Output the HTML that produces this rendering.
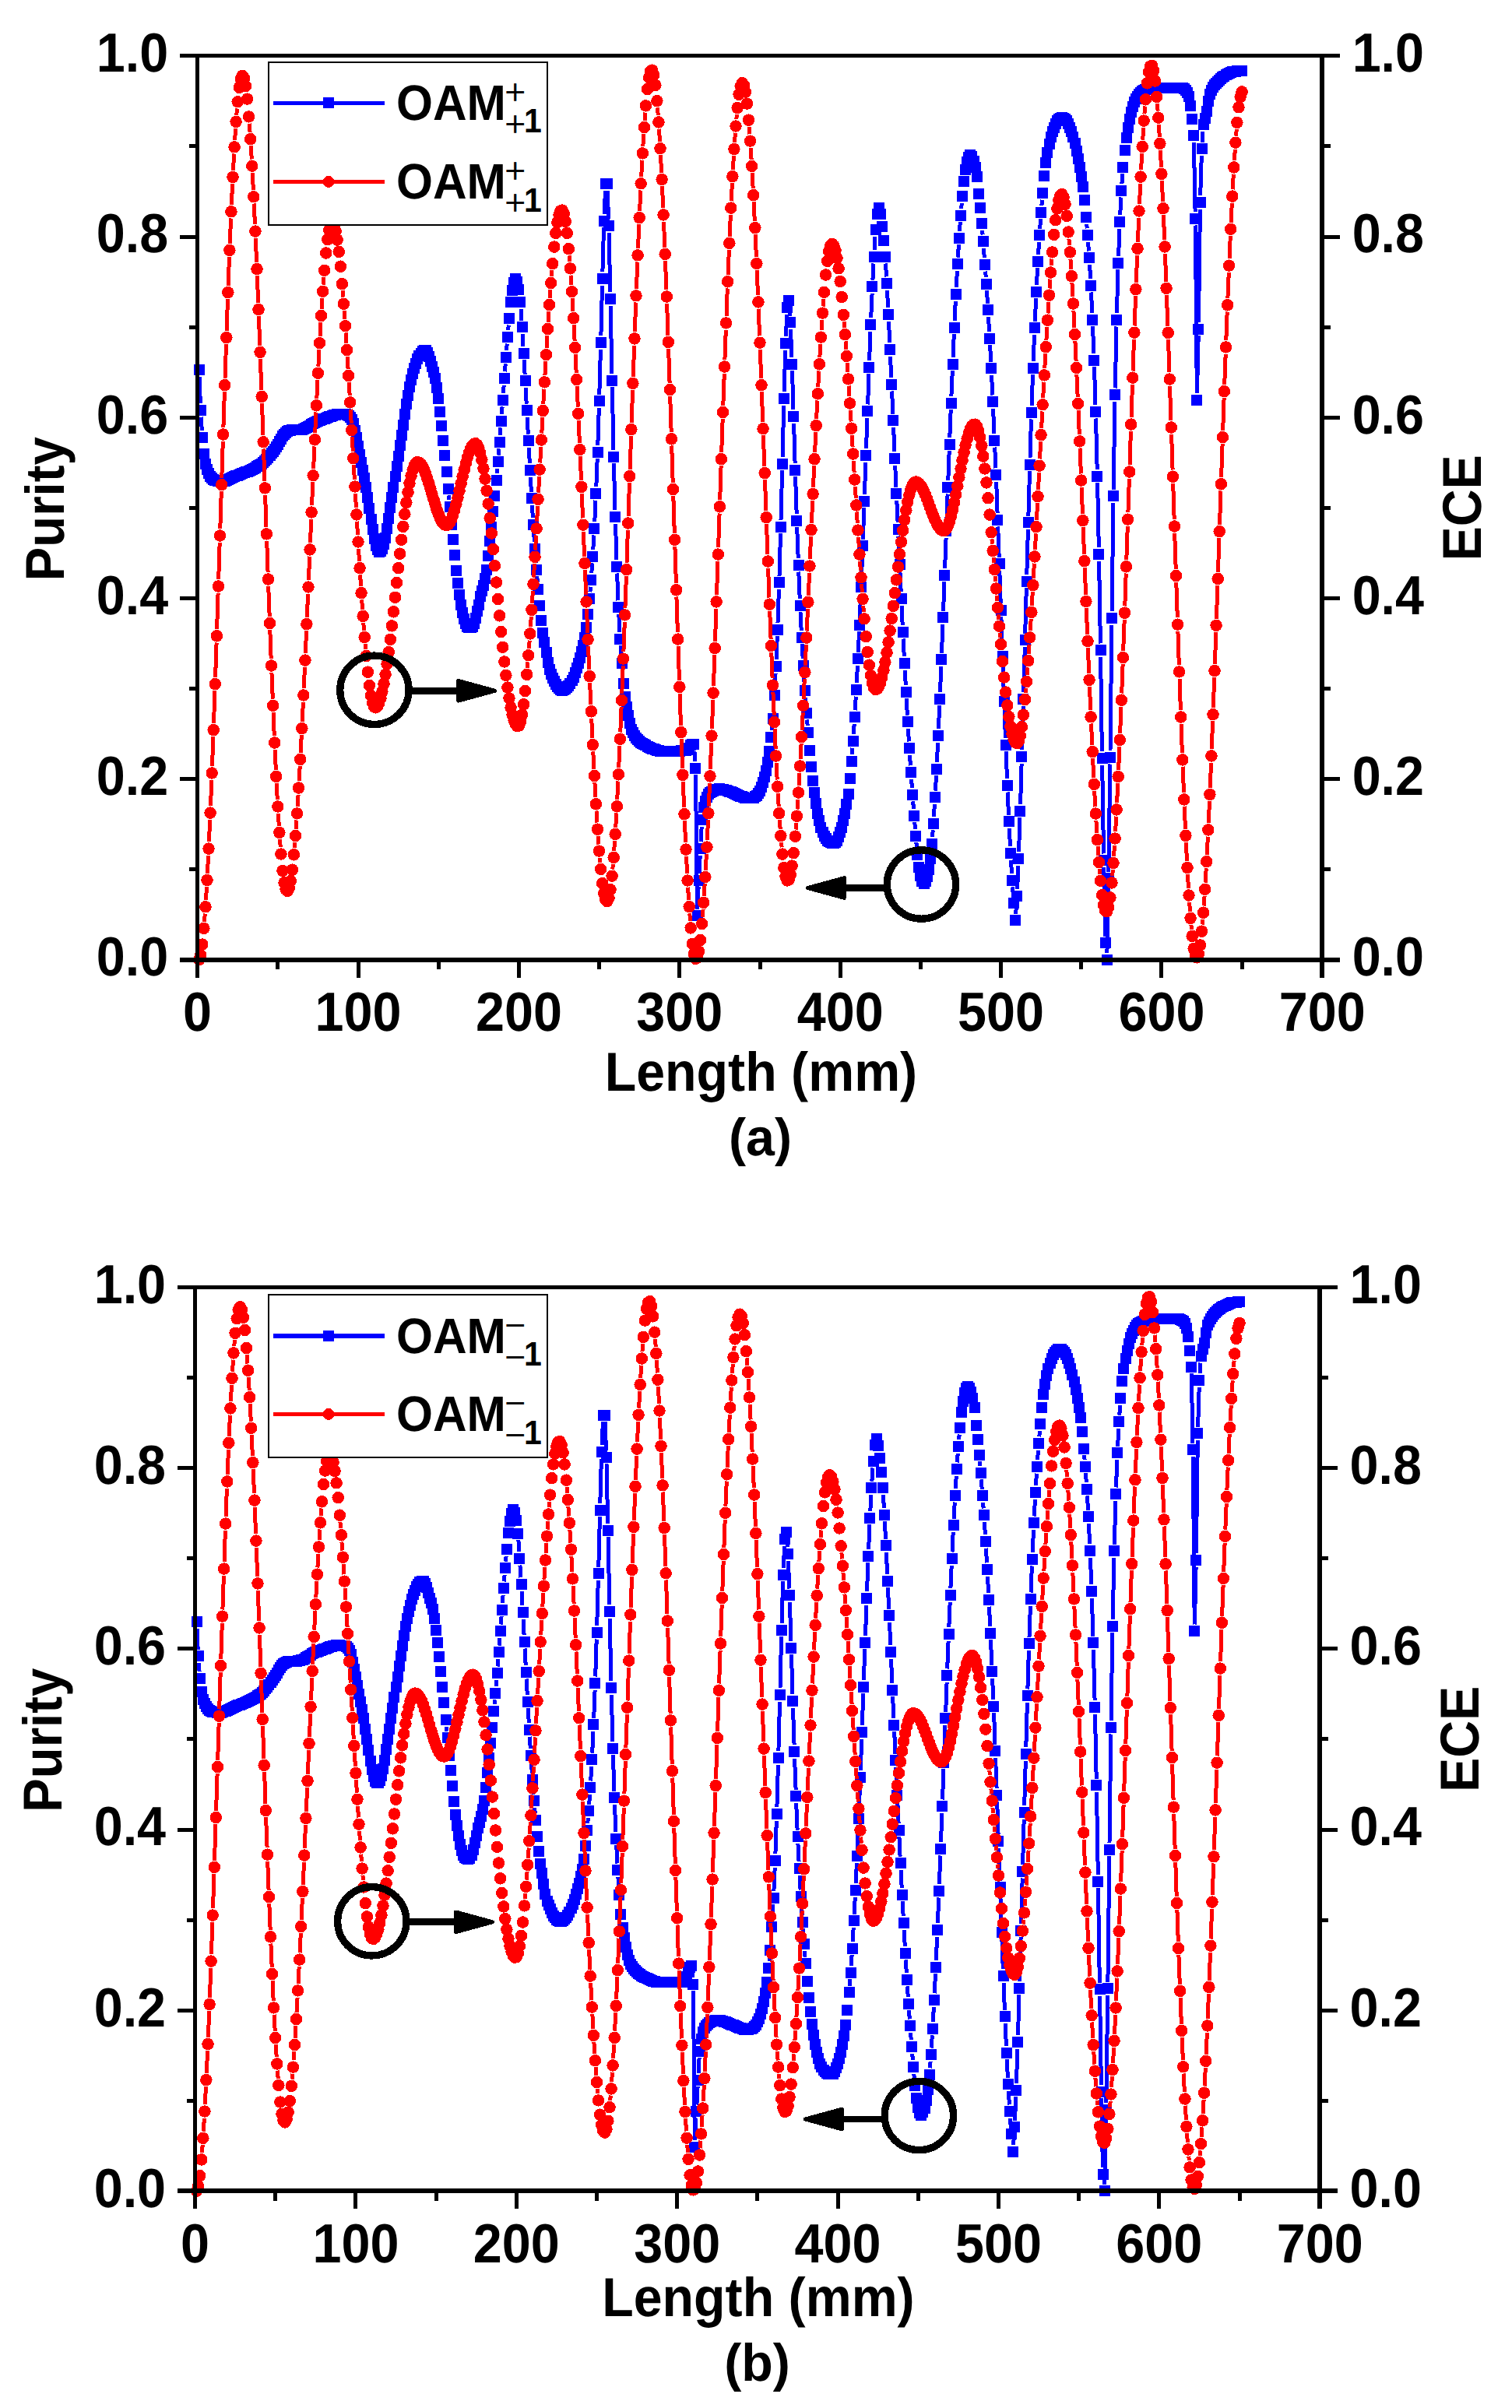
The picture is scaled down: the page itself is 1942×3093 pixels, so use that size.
<!DOCTYPE html>
<html><head><meta charset="utf-8"><title>Purity and ECE vs Length</title>
<style>html,body{margin:0;padding:0;background:#fff}svg{display:block}</style></head>
<body>
<svg width="1942" height="3093" viewBox="0 0 1942 3093" shape-rendering="crispEdges" text-rendering="geometricPrecision">
<rect width="1942" height="3093" fill="#fff"/>
<path d="M256 484L257.4 518.3M258.2 535.6L259.3 553.1M576.3 636.4L576.9 642.1M578.4 659.4L578.9 665M638.3 607.8L638.8 601.9M640.2 584.6L640.9 576.4M642.3 559L643 549.4M644.3 532.1L645.1 522.4M646.4 505L647.2 494.8M648.5 477.4L649.2 467.4M650.6 450L651.2 441.5M652.7 424.1L653.2 417.5M669 396.8L670 411.7M671 429L672 444.9M673.1 462.3L674.1 480.8M675.1 498.1L676.2 518.6M677.2 536L678.3 557.6M679.2 575L680.4 595.4M681.3 612.7L682.4 631.7M683.4 649.1L684.4 664.8M685.5 682.2L686.4 696.2M687.7 713.5L688.4 723.1M689.8 740.4L690.4 747.9M757.9 760.4L758.5 753.6M759.8 736.2L760.7 723.4M761.8 706L762.9 687.5M763.8 670.1L765 642.6M765.8 625.2L767.2 589.4M767.8 572L769.3 524M769.8 506.6L771.4 448.6M771.9 431.2L773.5 366.8M773.9 349.4L775.5 292.2M776.1 274.8L777.5 244.9M780.2 244.9L781.6 281.4M782.1 298.8L783.8 375.4M784.2 392.8L785.9 479.9M786.3 497.3L788 577.8M788.4 595.2L790 655.3M790.5 672.7L792 719.1M792.6 736.5L794 771.4M794.8 788.8L796 812M797 829.4L797.9 843.4M799.2 860.7L799.8 868.9M891.9 964.9L892.8 977.8M893.5 995.2L895.4 1167.7M895.9 1167.7L897.1 1139.4M898 1122L899.2 1098.8M900.1 1081.4L901.2 1061.8M991.2 937.8L991.7 931.9M993.1 914.6L993.9 902.1M995 884.7L996.1 864.7M997 847.3L998.3 817.3M999 799.9L1000.4 757.1M1001 739.7L1002.5 685.3M1003 667.9L1004.6 604.3M1005.1 586.9L1006.7 520.8M1007.2 503.4L1008.7 449.7M1009.4 432.3L1010.7 404.1M1013.7 394.9L1014.5 405.8M1015.5 423.1L1016.9 459M1017.5 476.4L1019 526.4M1019.6 543.8L1021.1 594.9M1021.6 612.3L1023.2 659.9M1023.7 677.3L1025.2 717.2M1025.8 734.5L1027.2 769.1M1028 786.4L1029.2 809.9M1030.1 827.3L1031.2 846M1032.2 863.4L1033.2 878.4M1034.4 895.8L1035.2 907.1M1036.5 924.5L1037.2 932.2M1094.3 969.3L1095 960.7M1096.3 943.3L1097.2 929.7M1098.2 912.4L1099.3 894.6M1100.3 877.2L1101.4 855.1M1102.3 837.7L1103.5 811.3M1104.3 794L1105.6 762.8M1106.3 745.4L1107.7 710.1M1108.4 692.7L1109.8 652.3M1110.4 634.9L1111.9 593.8M1112.5 576.4L1113.9 536.9M1114.6 519.5L1116 480.2M1116.6 462.8L1118 425.8M1118.7 408.4L1120.1 376.9M1120.9 359.6L1122 338.5M1123 321.1L1124 304M1137.5 338.5L1138.5 355.5M1139.5 372.9L1140.6 395.2M1141.5 412.6L1142.7 440.4M1143.5 457.8L1144.8 485.1M1145.6 502.5L1146.9 531.7M1147.6 549.1L1149 580.3M1149.7 597.7L1151 625.6M1151.8 642.9L1153.1 671.1M1153.9 688.5L1155.1 716.2M1155.9 733.6L1157.2 760.4M1158 777.7L1159.2 803.1M1160.1 820.5L1161.3 843.3M1162.2 860.7L1163.3 879.8M1164.2 897.2L1165.4 918.6M1166.4 935.9L1167.4 952.5M1168.5 969.9L1169.4 983.4M1170.6 1000.7L1171.4 1012M1172.7 1029.4L1173.4 1038.8M1174.8 1056.2L1175.5 1064.8M1176.9 1082.2L1177.5 1089.1M1197.5 1074.9L1198.2 1066.4M1199.4 1049L1200.4 1032.9M1201.4 1015.6L1202.5 996.2M1203.4 978.9L1204.6 953.8M1205.4 936.4L1206.7 906.3M1207.5 888.9L1208.8 856M1209.5 838.6L1210.9 802M1211.6 784.6L1213 747.4M1213.6 730L1215.1 690.7M1215.7 673.3L1217.1 634.5M1217.8 617.1L1219.2 579.4M1219.8 562L1221.2 526.2M1221.9 508.9L1223.3 476.2M1224 458.8L1225.3 429.4M1226.1 412L1227.3 386.6M1228.2 369.2L1229.4 348M1230.4 330.6L1231.4 314.3M1232.5 297L1233.3 285.2M1234.7 267.8L1235.3 261M1261.6 295.7L1262.1 301.5M1263.5 318.9L1264.3 331.2M1265.6 348.5L1266.3 356M1267.5 373.3L1268.5 389.7M1269.5 407.1L1270.6 425.9M1271.6 443.2L1272.7 464.7M1273.6 482.1L1274.8 507.5M1275.6 524.9L1276.9 557.1M1277.7 574.5L1279 601.4M1279.7 618.8L1281.1 659.2M1281.7 676.5L1283.2 715.6M1283.8 733L1285.2 774.9M1285.9 792.2L1287.3 834.1M1287.9 851.5L1289.4 892.1M1290 909.5L1291.4 947.9M1292.1 965.3L1293.5 1000.1M1294.2 1017.5L1295.5 1046.6M1296.3 1063.9L1297.5 1087.2M1298.4 1104.6L1299.5 1122M1300.6 1139.4L1301.4 1151.1M1304.7 1173.7L1305.6 1159.6M1306.6 1142.2L1307.9 1111.8M1308.5 1094.4L1310 1050.2M1310.6 1032.9L1312.1 980.8M1312.6 963.4L1314.2 906.7M1314.7 889.3L1316.3 831M1316.7 813.6L1318.3 755.2M1318.8 737.8L1320.4 680.1M1320.9 662.7L1322.5 605.4M1323 588L1324.5 538.5M1325.1 521.2L1326.5 481.4M1327.2 464L1328.5 430M1329.3 412.6L1330.6 383.4M1331.4 366L1332.6 344.2M1333.6 326.8L1334.5 311.1M1335.7 293.7L1336.5 281.2M1337.9 263.9L1338.5 256.6M1395.7 287.7L1396.2 293.4M1397.6 310.7L1398.4 322.5M1399.6 339.9L1400.6 358.2M1401.5 375.5L1402.8 401.8M1403.5 419.2L1404.9 453.9M1405.5 471.3L1407 520.1M1407.5 537.5L1409.2 602.9M1409.6 620.3L1411.3 703.2M1411.6 720.6L1413.4 826.5M1413.6 843.9L1415.4 965.2M1415.7 982.6L1417.5 1096.5M1417.8 1113.9L1419.5 1202.7M1421.9 1224.2L1423.7 1137.1M1423.9 1119.7L1425.8 981.5M1426 964.1L1427.9 802.7M1428.1 785.3L1429.9 646M1430.2 628.6L1431.9 515.9M1432.3 498.5L1434 419.5M1434.4 402.1L1436 346.4M1436.6 329L1437.9 293.6M1438.7 276.2L1439.9 253.5M1440.9 236.1L1441.8 223.3M1533.4 182.7L1535.1 272.1M1535.4 289.5L1537.3 505M1537.5 505L1539.2 431.1M1539.5 413.8L1541.4 268.6M1541.7 251.2L1543.3 200.1M1544.1 182.7L1545 169.1" stroke="#0000ff" stroke-width="5" fill="none"/>
<path d="M248.7 468.3h14v14h-14zM250.7 520h14v14h-14zM252.8 554.8h14v14h-14zM254.9 575.7h14v14h-14zM256.9 588.5h14v14h-14zM259 596.1h14v14h-14zM261 601.2h14v14h-14zM263.1 604.6h14v14h-14zM265.2 607.2h14v14h-14zM267.2 608.8h14v14h-14zM269.3 609.6h14v14h-14zM271.4 610.3h14v14h-14zM273.4 610.9h14v14h-14zM275.5 611.2h14v14h-14zM277.6 611.2h14v14h-14zM279.6 611h14v14h-14zM281.7 610.5h14v14h-14zM283.8 609.9h14v14h-14zM285.8 609.2h14v14h-14zM287.9 608.3h14v14h-14zM289.9 607.4h14v14h-14zM292 606.4h14v14h-14zM294.1 605.4h14v14h-14zM296.1 604.4h14v14h-14zM298.2 603.6h14v14h-14zM300.3 602.7h14v14h-14zM302.3 601.9h14v14h-14zM304.4 601h14v14h-14zM306.5 600.2h14v14h-14zM308.5 599.4h14v14h-14zM310.6 598.5h14v14h-14zM312.6 597.6h14v14h-14zM314.7 596.7h14v14h-14zM316.8 595.7h14v14h-14zM318.8 594.6h14v14h-14zM320.9 593.6h14v14h-14zM323 592.4h14v14h-14zM325 591.2h14v14h-14zM327.1 589.9h14v14h-14zM329.2 588.5h14v14h-14zM331.2 587h14v14h-14zM333.3 585.2h14v14h-14zM335.3 583.1h14v14h-14zM337.4 580.7h14v14h-14zM339.5 578.1h14v14h-14zM341.5 575.4h14v14h-14zM343.6 572.6h14v14h-14zM345.7 569.9h14v14h-14zM347.7 566.9h14v14h-14zM349.8 563.6h14v14h-14zM351.9 560h14v14h-14zM353.9 556.6h14v14h-14zM356 553.4h14v14h-14zM358.1 550.7h14v14h-14zM360.1 548.8h14v14h-14zM362.2 547.3h14v14h-14zM364.2 546.1h14v14h-14zM366.3 545.5h14v14h-14zM368.4 545.3h14v14h-14zM370.4 545.2h14v14h-14zM372.5 545.2h14v14h-14zM374.6 545.1h14v14h-14zM376.6 545h14v14h-14zM378.7 544.9h14v14h-14zM380.8 544.5h14v14h-14zM382.8 543.9h14v14h-14zM384.9 543.1h14v14h-14zM386.9 542.1h14v14h-14zM389 540.9h14v14h-14zM391.1 539.7h14v14h-14zM393.1 538.4h14v14h-14zM395.2 537.1h14v14h-14zM397.3 535.9h14v14h-14zM399.3 534.8h14v14h-14zM401.4 533.9h14v14h-14zM403.5 533h14v14h-14zM405.5 532.2h14v14h-14zM407.6 531.4h14v14h-14zM409.6 530.6h14v14h-14zM411.7 529.8h14v14h-14zM413.8 529.1h14v14h-14zM415.8 528.3h14v14h-14zM417.9 527.6h14v14h-14zM420 526.9h14v14h-14zM422 526.2h14v14h-14zM424.1 525.6h14v14h-14zM426.2 525h14v14h-14zM428.2 524.6h14v14h-14zM430.3 524.7h14v14h-14zM432.4 524.8h14v14h-14zM434.4 525.1h14v14h-14zM436.5 525.4h14v14h-14zM438.5 525.8h14v14h-14zM440.6 526.7h14v14h-14zM442.7 528.7h14v14h-14zM444.7 531.5h14v14h-14zM446.8 536.8h14v14h-14zM448.9 546h14v14h-14zM450.9 555.4h14v14h-14zM453 565.9h14v14h-14zM455.1 576.8h14v14h-14zM457.1 587.3h14v14h-14zM459.2 597.2h14v14h-14zM461.2 607.3h14v14h-14zM463.3 618.6h14v14h-14zM465.4 632h14v14h-14zM467.4 645.9h14v14h-14zM469.5 659.9h14v14h-14zM471.6 673.2h14v14h-14zM473.6 684.8h14v14h-14zM475.7 693.8h14v14h-14zM477.8 699.1h14v14h-14zM479.8 701.5h14v14h-14zM481.9 701.1h14v14h-14zM483.9 698.2h14v14h-14zM486 692.4h14v14h-14zM488.1 683.7h14v14h-14zM490.1 672.1h14v14h-14zM492.2 658.7h14v14h-14zM494.3 645.3h14v14h-14zM496.3 632h14v14h-14zM498.4 618.6h14v14h-14zM500.5 605.3h14v14h-14zM502.5 591.9h14v14h-14zM504.6 578.6h14v14h-14zM506.7 565.2h14v14h-14zM508.7 551.9h14v14h-14zM510.8 538.5h14v14h-14zM512.8 525.2h14v14h-14zM514.9 512.4h14v14h-14zM517 500.8h14v14h-14zM519 490.3h14v14h-14zM521.1 481.3h14v14h-14zM523.2 473h14v14h-14zM525.2 465.8h14v14h-14zM527.3 459.6h14v14h-14zM529.4 454.3h14v14h-14zM531.4 449.9h14v14h-14zM533.5 446.5h14v14h-14zM535.5 443.9h14v14h-14zM537.6 442.5h14v14h-14zM539.7 442.6h14v14h-14zM541.7 445.6h14v14h-14zM543.8 450.7h14v14h-14zM545.9 457h14v14h-14zM547.9 464.1h14v14h-14zM550 470.8h14v14h-14zM552.1 478.7h14v14h-14zM554.1 490.9h14v14h-14zM556.2 505h14v14h-14zM558.2 521.9h14v14h-14zM560.3 539.9h14v14h-14zM562.4 558.6h14v14h-14zM564.4 578.2h14v14h-14zM566.5 598.7h14v14h-14zM568.6 620.7h14v14h-14zM570.6 643.7h14v14h-14zM572.7 666.7h14v14h-14zM574.8 685.5h14v14h-14zM576.8 705.6h14v14h-14zM578.9 725.5h14v14h-14zM581 742.3h14v14h-14zM583 756.8h14v14h-14zM585.1 769.6h14v14h-14zM587.1 780h14v14h-14zM589.2 788.2h14v14h-14zM591.3 794h14v14h-14zM593.3 797.5h14v14h-14zM595.4 798.8h14v14h-14zM597.5 799.4h14v14h-14zM599.5 798h14v14h-14zM601.6 794h14v14h-14zM603.7 787h14v14h-14zM605.7 778.3h14v14h-14zM607.8 769.6h14v14h-14zM609.8 759.1h14v14h-14zM611.9 752.2h14v14h-14zM614 744.6h14v14h-14zM616 735.9h14v14h-14zM618.1 724.8h14v14h-14zM620.2 707.1h14v14h-14zM622.2 688.4h14v14h-14zM624.3 669.7h14v14h-14zM626.4 650h14v14h-14zM628.4 630.3h14v14h-14zM630.5 609.5h14v14h-14zM632.5 586.3h14v14h-14zM634.6 560.7h14v14h-14zM636.7 533.8h14v14h-14zM638.7 506.7h14v14h-14zM640.8 479.1h14v14h-14zM642.9 451.7h14v14h-14zM644.9 425.8h14v14h-14zM647 401.9h14v14h-14zM649.1 380.7h14v14h-14zM651.1 365.5h14v14h-14zM653.2 355.7h14v14h-14zM655.3 350.9h14v14h-14zM657.3 354.5h14v14h-14zM659.4 364.9h14v14h-14zM661.4 381.1h14v14h-14zM663.5 413.4h14v14h-14zM665.6 446.6h14v14h-14zM667.6 482.4h14v14h-14zM669.7 520.3h14v14h-14zM671.8 559.3h14v14h-14zM673.8 597h14v14h-14zM675.9 633.4h14v14h-14zM678 666.5h14v14h-14zM680 697.8h14v14h-14zM682.1 724.8h14v14h-14zM684.1 749.6h14v14h-14zM686.2 770.6h14v14h-14zM688.3 789.6h14v14h-14zM690.3 805.7h14v14h-14zM692.4 817.8h14v14h-14zM694.5 831.1h14v14h-14zM696.5 844.4h14v14h-14zM698.6 853.4h14v14h-14zM700.7 858.9h14v14h-14zM702.7 863.5h14v14h-14zM704.8 868.3h14v14h-14zM706.8 872.3h14v14h-14zM708.9 874.9h14v14h-14zM711 877h14v14h-14zM713 878.6h14v14h-14zM715.1 879.7h14v14h-14zM717.2 879.3h14v14h-14zM719.2 878.2h14v14h-14zM721.3 876.4h14v14h-14zM723.4 874.1h14v14h-14zM725.4 871h14v14h-14zM727.5 867.1h14v14h-14zM729.6 862.6h14v14h-14zM731.6 857.3h14v14h-14zM733.7 851.2h14v14h-14zM735.7 844.5h14v14h-14zM737.8 837.5h14v14h-14zM739.9 830h14v14h-14zM741.9 821.8h14v14h-14zM744 812h14v14h-14zM746.1 799.3h14v14h-14zM748.1 782h14v14h-14zM750.2 762h14v14h-14zM752.3 737.9h14v14h-14zM754.3 707.7h14v14h-14zM756.4 671.8h14v14h-14zM758.4 626.9h14v14h-14zM760.5 573.7h14v14h-14zM762.6 508.3h14v14h-14zM764.6 432.9h14v14h-14zM766.7 351.1h14v14h-14zM768.8 276.5h14v14h-14zM770.8 229.2h14v14h-14zM772.9 229.2h14v14h-14zM775 283.1h14v14h-14zM777 377.1h14v14h-14zM779.1 481.6h14v14h-14zM781.2 579.5h14v14h-14zM783.2 657h14v14h-14zM785.3 720.8h14v14h-14zM787.3 773.1h14v14h-14zM789.4 813.7h14v14h-14zM791.5 845.1h14v14h-14zM793.5 870.6h14v14h-14zM795.6 887.9h14v14h-14zM797.7 900.9h14v14h-14zM799.7 912.3h14v14h-14zM801.8 922.2h14v14h-14zM803.9 929.6h14v14h-14zM805.9 934.1h14v14h-14zM808 937.6h14v14h-14zM810 940.5h14v14h-14zM812.1 942.9h14v14h-14zM814.2 944.9h14v14h-14zM816.2 946.6h14v14h-14zM818.3 947.9h14v14h-14zM820.4 949.2h14v14h-14zM822.4 950.4h14v14h-14zM824.5 951.5h14v14h-14zM826.6 952.6h14v14h-14zM828.6 953.7h14v14h-14zM830.7 954.6h14v14h-14zM832.7 955.4h14v14h-14zM834.8 956.2h14v14h-14zM836.9 956.8h14v14h-14zM838.9 957.3h14v14h-14zM841 957.7h14v14h-14zM843.1 957.9h14v14h-14zM845.1 957.9h14v14h-14zM847.2 957.9h14v14h-14zM849.3 957.9h14v14h-14zM851.3 957.9h14v14h-14zM853.4 957.8h14v14h-14zM855.5 957.8h14v14h-14zM857.5 957.7h14v14h-14zM859.6 957.6h14v14h-14zM861.6 957.6h14v14h-14zM863.7 957.5h14v14h-14zM865.8 957.5h14v14h-14zM867.8 957.4h14v14h-14zM869.9 957.3h14v14h-14zM872 957.3h14v14h-14zM874 957.1h14v14h-14zM876.1 956.2h14v14h-14zM878.2 954.2h14v14h-14zM880.2 949.6h14v14h-14zM882.3 949.2h14v14h-14zM884.3 949.2h14v14h-14zM886.4 979.5h14v14h-14zM888.5 1169.4h14v14h-14zM890.5 1123.7h14v14h-14zM892.6 1083.1h14v14h-14zM894.7 1046.2h14v14h-14zM896.7 1030h14v14h-14zM898.8 1021.5h14v14h-14zM900.9 1016.9h14v14h-14zM902.9 1013.4h14v14h-14zM905 1011.3h14v14h-14zM907 1009.9h14v14h-14zM909.1 1008.9h14v14h-14zM911.2 1007.9h14v14h-14zM913.2 1007.1h14v14h-14zM915.3 1006.5h14v14h-14zM917.4 1006.3h14v14h-14zM919.4 1006.5h14v14h-14zM921.5 1006.9h14v14h-14zM923.6 1007.5h14v14h-14zM925.6 1008.1h14v14h-14zM927.7 1008.8h14v14h-14zM929.8 1009.5h14v14h-14zM931.8 1010.3h14v14h-14zM933.9 1011.1h14v14h-14zM935.9 1012h14v14h-14zM938 1012.8h14v14h-14zM940.1 1013.7h14v14h-14zM942.1 1014.6h14v14h-14zM944.2 1015.5h14v14h-14zM946.3 1016.3h14v14h-14zM948.3 1016.9h14v14h-14zM950.4 1017.5h14v14h-14zM952.5 1018h14v14h-14zM954.5 1018.2h14v14h-14zM956.6 1018.1h14v14h-14zM958.6 1017.9h14v14h-14zM960.7 1017.5h14v14h-14zM962.8 1016.4h14v14h-14zM964.8 1014.6h14v14h-14zM966.9 1012.3h14v14h-14zM969 1008.8h14v14h-14zM971 1004.1h14v14h-14zM973.1 998.3h14v14h-14zM975.2 991.4h14v14h-14zM977.2 982.6h14v14h-14zM979.3 971.6h14v14h-14zM981.3 957.7h14v14h-14zM983.4 939.5h14v14h-14zM985.5 916.2h14v14h-14zM987.5 886.4h14v14h-14zM989.6 849h14v14h-14zM991.7 801.6h14v14h-14zM993.7 741.4h14v14h-14zM995.8 669.6h14v14h-14zM997.9 588.6h14v14h-14zM999.9 505.1h14v14h-14zM1002 434h14v14h-14zM1004.1 388.4h14v14h-14zM1006.1 379.2h14v14h-14zM1008.2 407.4h14v14h-14zM1010.2 460.7h14v14h-14zM1012.3 528.1h14v14h-14zM1014.4 596.6h14v14h-14zM1016.4 661.6h14v14h-14zM1018.5 718.8h14v14h-14zM1020.6 770.7h14v14h-14zM1022.6 811.6h14v14h-14zM1024.7 847.7h14v14h-14zM1026.8 880.1h14v14h-14zM1028.8 908.8h14v14h-14zM1030.9 933.9h14v14h-14zM1032.9 956.8h14v14h-14zM1035 977.5h14v14h-14zM1037.1 995.7h14v14h-14zM1039.1 1011.4h14v14h-14zM1041.2 1025.4h14v14h-14zM1043.3 1037.6h14v14h-14zM1045.3 1047.4h14v14h-14zM1047.4 1055.6h14v14h-14zM1049.5 1062h14v14h-14zM1051.5 1066.8h14v14h-14zM1053.6 1070.3h14v14h-14zM1055.6 1072.6h14v14h-14zM1057.7 1074.1h14v14h-14zM1059.8 1075.1h14v14h-14zM1061.8 1075.7h14v14h-14zM1063.9 1075.8h14v14h-14zM1066 1075.2h14v14h-14zM1068 1072.5h14v14h-14zM1070.1 1067.9h14v14h-14zM1072.2 1062.4h14v14h-14zM1074.2 1055.8h14v14h-14zM1076.3 1047.2h14v14h-14zM1078.4 1037.5h14v14h-14zM1080.4 1026.3h14v14h-14zM1082.5 1012.9h14v14h-14zM1084.5 993.3h14v14h-14zM1086.6 970.9h14v14h-14zM1088.7 945h14v14h-14zM1090.7 914.1h14v14h-14zM1092.8 878.9h14v14h-14zM1094.9 839.4h14v14h-14zM1096.9 795.6h14v14h-14zM1099 747.1h14v14h-14zM1101.1 694.4h14v14h-14zM1103.1 636.6h14v14h-14zM1105.2 578.1h14v14h-14zM1107.2 521.2h14v14h-14zM1109.3 464.5h14v14h-14zM1111.4 410.1h14v14h-14zM1113.4 361.2h14v14h-14zM1115.5 322.8h14v14h-14zM1117.6 288.4h14v14h-14zM1119.6 267.8h14v14h-14zM1121.7 259.6h14v14h-14zM1123.8 268.3h14v14h-14zM1125.8 284.3h14v14h-14zM1127.9 302.4h14v14h-14zM1129.9 322.8h14v14h-14zM1132 357.2h14v14h-14zM1134.1 396.9h14v14h-14zM1136.1 442.1h14v14h-14zM1138.2 486.8h14v14h-14zM1140.3 533.4h14v14h-14zM1142.3 582h14v14h-14zM1144.4 627.2h14v14h-14zM1146.5 672.8h14v14h-14zM1148.5 717.9h14v14h-14zM1150.6 762.1h14v14h-14zM1152.7 804.8h14v14h-14zM1154.7 845h14v14h-14zM1156.8 881.5h14v14h-14zM1158.8 920.3h14v14h-14zM1160.9 954.2h14v14h-14zM1163 985h14v14h-14zM1165 1013.7h14v14h-14zM1167.1 1040.5h14v14h-14zM1169.2 1066.5h14v14h-14zM1171.2 1090.8h14v14h-14zM1173.3 1106.6h14v14h-14zM1175.4 1118.1h14v14h-14zM1177.4 1125.1h14v14h-14zM1179.5 1128.3h14v14h-14zM1181.5 1124.9h14v14h-14zM1183.6 1119.1h14v14h-14zM1185.7 1109.8h14v14h-14zM1187.7 1095.9h14v14h-14zM1189.8 1076.6h14v14h-14zM1191.9 1050.7h14v14h-14zM1193.9 1017.3h14v14h-14zM1196 980.6h14v14h-14zM1198.1 938.1h14v14h-14zM1200.1 890.6h14v14h-14zM1202.2 840.3h14v14h-14zM1204.2 786.3h14v14h-14zM1206.3 731.7h14v14h-14zM1208.4 675h14v14h-14zM1210.4 618.8h14v14h-14zM1212.5 563.7h14v14h-14zM1214.6 510.5h14v14h-14zM1216.6 460.5h14v14h-14zM1218.7 413.7h14v14h-14zM1220.8 370.9h14v14h-14zM1222.8 332.3h14v14h-14zM1224.9 298.6h14v14h-14zM1227 269.5h14v14h-14zM1229 245.4h14v14h-14zM1231.1 225.8h14v14h-14zM1233.1 211.1h14v14h-14zM1235.2 200.6h14v14h-14zM1237.3 194.8h14v14h-14zM1239.3 192.4h14v14h-14zM1241.4 194.3h14v14h-14zM1243.5 199.5h14v14h-14zM1245.5 207.6h14v14h-14zM1247.6 219.8h14v14h-14zM1249.7 242.4h14v14h-14zM1251.7 260.3h14v14h-14zM1253.8 280h14v14h-14zM1255.8 303.2h14v14h-14zM1257.9 332.9h14v14h-14zM1260 357.6h14v14h-14zM1262 391.4h14v14h-14zM1264.1 427.5h14v14h-14zM1266.2 466.4h14v14h-14zM1268.2 509.2h14v14h-14zM1270.3 558.8h14v14h-14zM1272.4 603.1h14v14h-14zM1274.4 660.8h14v14h-14zM1276.5 717.3h14v14h-14zM1278.5 776.6h14v14h-14zM1280.6 835.8h14v14h-14zM1282.7 893.8h14v14h-14zM1284.7 949.6h14v14h-14zM1286.8 1001.8h14v14h-14zM1288.9 1048.3h14v14h-14zM1290.9 1088.9h14v14h-14zM1293 1123.7h14v14h-14zM1295.1 1152.8h14v14h-14zM1297.1 1175.4h14v14h-14zM1299.2 1143.9h14v14h-14zM1301.3 1096.1h14v14h-14zM1303.3 1034.6h14v14h-14zM1305.4 965.1h14v14h-14zM1307.4 891h14v14h-14zM1309.5 815.3h14v14h-14zM1311.6 739.5h14v14h-14zM1313.6 664.4h14v14h-14zM1315.7 589.7h14v14h-14zM1317.8 522.9h14v14h-14zM1319.8 465.7h14v14h-14zM1321.9 414.3h14v14h-14zM1324 367.7h14v14h-14zM1326 328.5h14v14h-14zM1328.1 295.4h14v14h-14zM1330.1 265.6h14v14h-14zM1332.2 240.9h14v14h-14zM1334.3 219.1h14v14h-14zM1336.3 202.3h14v14h-14zM1338.4 189h14v14h-14zM1340.5 178h14v14h-14zM1342.5 169.3h14v14h-14zM1344.6 162.3h14v14h-14zM1346.7 156.5h14v14h-14zM1348.7 151.9h14v14h-14zM1350.8 148.4h14v14h-14zM1352.9 146.1h14v14h-14zM1354.9 144.6h14v14h-14zM1357 144h14v14h-14zM1359 144.6h14v14h-14zM1361.1 146.1h14v14h-14zM1363.2 148.4h14v14h-14zM1365.2 151.9h14v14h-14zM1367.3 156.5h14v14h-14zM1369.4 162.3h14v14h-14zM1371.4 169.3h14v14h-14zM1373.5 177.4h14v14h-14zM1375.6 186.7h14v14h-14zM1377.6 196.6h14v14h-14zM1379.7 207.6h14v14h-14zM1381.7 219.8h14v14h-14zM1383.8 232.9h14v14h-14zM1385.9 250.1h14v14h-14zM1387.9 272.1h14v14h-14zM1390 295h14v14h-14zM1392.1 324.2h14v14h-14zM1394.1 359.8h14v14h-14zM1396.2 403.5h14v14h-14zM1398.3 455.6h14v14h-14zM1400.3 521.8h14v14h-14zM1402.4 604.6h14v14h-14zM1404.4 704.9h14v14h-14zM1406.5 828.2h14v14h-14zM1408.6 966.9h14v14h-14zM1410.6 1098.2h14v14h-14zM1412.7 1204.4h14v14h-14zM1414.8 1225.9h14v14h-14zM1416.8 1121.4h14v14h-14zM1418.9 965.8h14v14h-14zM1421 787h14v14h-14zM1423 630.3h14v14h-14zM1425.1 500.2h14v14h-14zM1427.2 403.8h14v14h-14zM1429.2 330.7h14v14h-14zM1431.3 277.9h14v14h-14zM1433.3 237.8h14v14h-14zM1435.4 207.6h14v14h-14zM1437.5 185.6h14v14h-14zM1439.5 169.7h14v14h-14zM1441.6 156.6h14v14h-14zM1443.7 146.1h14v14h-14zM1445.7 137.3h14v14h-14zM1447.8 129.9h14v14h-14zM1449.9 124.2h14v14h-14zM1451.9 120.1h14v14h-14zM1454 116.7h14v14h-14zM1456 113.8h14v14h-14zM1458.1 111.5h14v14h-14zM1460.2 110.1h14v14h-14zM1462.2 109.1h14v14h-14zM1464.3 108.2h14v14h-14zM1466.4 107.4h14v14h-14zM1468.4 106.8h14v14h-14zM1470.5 106.3h14v14h-14zM1472.6 106h14v14h-14zM1474.6 105.9h14v14h-14zM1476.7 105.9h14v14h-14zM1478.7 105.9h14v14h-14zM1480.8 105.9h14v14h-14zM1482.9 105.9h14v14h-14zM1484.9 105.9h14v14h-14zM1487 105.9h14v14h-14zM1489.1 105.9h14v14h-14zM1491.1 105.9h14v14h-14zM1493.2 105.9h14v14h-14zM1495.3 105.9h14v14h-14zM1497.3 105.9h14v14h-14zM1499.4 105.9h14v14h-14zM1501.5 105.9h14v14h-14zM1503.5 105.9h14v14h-14zM1505.6 105.9h14v14h-14zM1507.6 105.9h14v14h-14zM1509.7 105.9h14v14h-14zM1511.8 106.3h14v14h-14zM1513.8 107.4h14v14h-14zM1515.9 108.9h14v14h-14zM1518 111.8h14v14h-14zM1520 117h14v14h-14zM1522.1 128.7h14v14h-14zM1524.2 146.1h14v14h-14zM1526.2 167h14v14h-14zM1528.3 273.8h14v14h-14zM1530.3 506.7h14v14h-14zM1532.4 415.5h14v14h-14zM1534.5 252.9h14v14h-14zM1536.5 184.4h14v14h-14zM1538.6 153.4h14v14h-14zM1540.7 144.7h14v14h-14zM1542.7 136h14v14h-14zM1544.8 123.3h14v14h-14zM1546.9 113.8h14v14h-14zM1548.9 109.1h14v14h-14zM1551 105.3h14v14h-14zM1553 102.3h14v14h-14zM1555.1 99.8h14v14h-14zM1557.2 97.6h14v14h-14zM1559.2 95.6h14v14h-14zM1561.3 93.8h14v14h-14zM1563.4 92.1h14v14h-14zM1565.4 90.7h14v14h-14zM1567.5 89.4h14v14h-14zM1569.6 88.3h14v14h-14zM1571.6 87.2h14v14h-14zM1573.7 86.2h14v14h-14zM1575.8 85.4h14v14h-14zM1577.8 84.8h14v14h-14zM1579.9 84.5h14v14h-14zM1581.9 84.2h14v14h-14zM1584 84h14v14h-14zM1586.1 83.9h14v14h-14zM1588.1 83.8h14v14h-14z" fill="#0000ff"/>
<path d="M262.5 1183.8L263.3 1173.5M264.4 1156.1L265.5 1139.2M266.4 1121.8L267.6 1098.8M268.4 1081.4L269.7 1052.8M270.5 1035.4L271.8 1001.7M272.5 984.3L273.9 946.3M274.5 928.9L276 887.3M276.6 869.9L278.1 825.5M278.6 808.1L280.1 761.7M280.7 744.3L282.2 696.7M282.8 679.3L284.3 631.4M284.8 614L286.3 566.7M286.9 549.3L288.4 503.3M289 486L290.5 442.3M291.1 424.9L292.5 384.3M293.1 366.9L294.5 330.1M295.2 312.7L296.6 280.5M297.3 263.1L298.6 236.1M299.5 218.7L300.6 197.5M301.6 180.1L302.6 165.1M303.8 147.8L304.5 139.5M320.3 158.6L321.1 170M322.2 187.4L323.3 204.5M324.2 221.9L325.4 244.1M326.2 261.5L327.5 288.4M328.3 305.8L329.6 336.9M330.3 354.3L331.7 388.9M332.4 406.3L333.8 443.7M334.4 461.1L335.8 500.7M336.5 518.1L337.9 559.1M338.5 576.5L340 618.2M340.6 635.6L342 677.2M342.7 694.6L344.1 735.3M344.7 752.7L346.2 791.9M346.8 809.3L348.2 846.3M348.9 863.6L350.3 897.6M351 915L352.3 945.3M353.1 962.7L354.3 988.7M355.2 1006.1L356.3 1027.4M357.3 1044.7L358.3 1060.7M359.5 1078.1L360.3 1088.3M378.2 1089.1L378.8 1082.2M380.1 1064.9L380.9 1053.5M382.1 1036.2L383.1 1020.7M384.1 1003.3L385.2 984.1M386.1 966.7L387.3 944.3M388.2 926.9L389.4 901.7M390.2 884.3L391.5 856.8M392.3 839.4L393.6 810.3M394.3 792.9L395.6 762.7M396.4 745.3L397.7 714.6M398.4 697.3L399.8 666.7M400.5 649.3L401.8 619.4M402.6 602.1L403.9 573.5M404.7 556.2L405.9 529.5M406.8 512.1L408 487.9M408.9 470.6L410 449.3M411 432L412 414.2M413.1 396.8L414 383M415.2 365.6L416 356M440 373.3L440.7 381.6M442 399L442.8 410M444.1 427.4L445 440.9M446.1 458.3L447.1 473.8M448.1 491.2L449.2 508.3M450.2 525.6L451.2 543.8M452.2 561.2L453.3 580M454.3 597.4L455.4 616.3M456.4 633.7L457.4 652.2M458.4 669.6L459.5 687.3M460.5 704.7L461.5 721.1M462.6 738.4L463.6 753M464.7 770.4L465.6 782.7M466.8 800.1L467.6 809.8M469 827.1L469.6 833.8M677.4 857.7L678 850.4M679.4 833.1L680.2 822.6M681.4 805.3L682.3 792M683.4 774.7L684.4 759M685.5 741.6L686.5 724M687.5 706.6L688.6 687.5M689.6 670.1L690.7 650M691.6 632.6L692.7 611.9M693.7 594.5L694.8 573.8M695.8 556.5L696.9 536.2M697.8 518.9L698.9 499.6M699.9 482.2L701 464.4M702 447.1L703 431.2M704.1 413.8L705 400.3M706.2 383L707 372.2M708.4 354.9L709 347.2M731.1 328.4L731.7 336.3M733 353.6L733.9 366M735 383.4L736 400M737 417.3L738.1 437.7M739.1 455.1L740.2 478.8M741.1 496.2L742.3 522.6M743.1 540L744.4 568.8M745.2 586.2L746.5 616.6M747.2 634L748.6 665.5M749.3 682.9L750.6 714.9M751.4 732.3L752.7 764.2M753.4 781.6L754.8 812.7M755.5 830.1L756.8 860M757.6 877.3L758.9 905.2M759.7 922.6L760.9 948.1M761.8 965.4L762.9 987.9M763.9 1005.2L765 1024.1M766 1041.5L767 1056.5M768.2 1073.8L768.9 1084.5M770.3 1101.8L770.9 1107.7M786.8 1116.6L787.4 1110M788.7 1092.7L789.6 1080.1M790.7 1062.7L791.8 1044.4M792.7 1027.1L793.9 1003.5M794.7 986.1L796 957.9M796.8 940.5L798.1 908.1M798.8 890.7L800.2 854.8M800.9 837.4L802.3 798.6M802.9 781.2L804.4 740.3M805 722.9L806.4 680.7M807 663.3L808.5 620.4M809.1 603L810.6 560.3M811.2 542.9L812.6 501.1M813.2 483.7L814.7 443.6M815.3 426.2L816.7 388.5M817.4 371.1L818.8 336.5M819.5 319.1L820.8 288.3M821.6 270.9L822.8 244.5M823.7 227.1L824.8 205.6M825.8 188.2L826.8 172.1M828 154.8L828.8 144.6M844.5 138.4L845.3 148.3M846.5 165.6L847.5 182M848.5 199.4L849.6 221.8M850.5 239.2L851.7 267.2M852.5 284.6L853.8 317.6M854.5 335L855.9 372.3M856.6 389.7L858 430.7M858.6 448L860.1 491.9M860.7 509.2L862.2 555.1M862.7 572.5L864.2 619.7M864.8 637L866.3 684.6M866.9 702L868.4 749.1M868.9 766.5L870.4 812.4M871 829.8L872.5 873.6M873.1 891L874.5 931.9M875.2 949.3L876.6 986.7M877.3 1004L878.6 1037M879.4 1054.4L880.6 1082.4M881.5 1099.8L882.6 1122.3M883.6 1139.6L884.6 1156M885.8 1173.4L886.6 1183.3M902.3 1177.9L903.1 1168.1M904.3 1150.7L905.2 1135.1M906.3 1117.8L907.4 1096.8M908.3 1079.4L909.5 1053.4M910.3 1036L911.6 1005.6M912.3 988.2L913.7 953.8M914.4 936.4L915.8 898.8M916.4 881.4L917.9 841.2M918.5 823.8L919.9 781.6M920.5 764.2L922 720.8M922.6 703.4L924.1 659.5M924.7 642.1L926.1 598.4M926.7 581L928.2 538.2M928.8 520.8L930.3 479.7M930.9 462.3L932.3 423.6M933 406.2L934.3 370.5M935 353.1L936.4 321M937.1 303.6L938.4 275.8M939.3 258.4L940.4 235.3M941.4 218L942.4 200.1M943.5 182.8L944.4 170.6M945.8 153.3L946.3 147.2M962.2 162.9L962.9 172.4M964.1 189.8L965.1 204.7M966.1 222.1L967.2 242M968.1 259.4L969.3 283.9M970.2 301.3L971.4 329.8M972.2 347.2L973.5 379.2M974.2 396.6L975.6 431.5M976.3 448.9L977.7 486M978.3 503.3L979.8 542M980.4 559.4L981.8 598.9M982.5 616.2L983.9 655.9M984.5 673.3L986 712.3M986.6 729.7L988 767.5M988.7 784.9L990.1 820.7M990.8 838.1L992.1 871.4M992.9 888.8L994.2 918.8M995 936.1L996.2 962.3M997.1 979.7L998.2 1001.5M999.2 1018.9L1000.2 1035.9M1001.3 1053.2L1002.2 1065M1003.6 1082.3L1004.1 1088.4M1022.1 1065.5L1022.7 1056.9M1024 1039.5L1024.9 1026.7M1026 1009.3L1027 992.7M1028 975.3L1029.1 955.3M1030.1 937.9L1031.2 915M1032.1 897.6L1033.3 872.3M1034.2 855L1035.4 827.8M1036.2 810.5L1037.5 782.1M1038.3 764.7L1039.6 735.7M1040.3 718.3L1041.6 689.2M1042.4 671.8L1043.7 643.2M1044.5 625.8L1045.7 598.4M1046.6 581L1047.8 555.3M1048.6 538L1049.8 514.5M1050.7 497.1L1051.9 476.5M1052.8 459.1L1053.9 441.8M1055 424.4L1055.9 410.8M1057.1 393.5L1057.9 384M1084 412.9L1084.6 421M1086 438.4L1086.8 448.7M1088 466L1088.9 478.3M1090.1 495.6L1091 509.3M1092.1 526.7L1093.1 541.5M1094.2 558.9L1095.1 574.3M1096.2 591.7L1097.2 607.4M1098.3 624.7L1099.3 640.2M1100.4 657.5L1101.3 672.3M1102.4 689.7L1103.4 703.4M1104.5 720.8L1105.4 733M1106.6 750.3L1107.4 760.7M1108.8 778L1109.4 786.1M1273.9 692.4L1274.5 698.7M1276 716L1276.6 722.9M1278 740.2L1278.6 747.3M1280.1 764.7L1280.7 771.7M1282.2 789L1282.7 795.6M1284.3 813L1284.8 818.8M1317.3 890L1317.8 884.1M1319.2 866.7L1320 857.4M1321.2 840L1322.1 827.6M1323.3 810.2L1324.2 795.1M1325.3 777.7L1326.3 760.3M1327.3 742.9L1328.4 723.6M1329.4 706.2L1330.5 685.4M1331.4 668.1L1332.6 646.4M1333.5 629L1334.6 606.9M1335.5 589.5L1336.7 567.4M1337.6 550L1338.8 528.5M1339.7 511.1L1340.8 490.6M1341.8 473.2L1342.8 454.2M1343.9 436.9L1344.9 419.8M1346 402.5L1346.9 387.8M1348.1 370.5L1348.9 358.6M1350.2 341.3L1350.9 332.6M1372.9 306.7L1373.6 315.2M1374.9 332.6L1375.8 346M1376.9 363.3L1377.9 381.3M1378.9 398.7L1380 420.7M1380.9 438.1L1382.1 463.7M1382.9 481.1L1384.2 509.7M1385 527.1L1386.3 558.2M1387 575.5L1388.4 608.5M1389.1 625.8L1390.5 659.9M1391.2 677.3L1392.5 712M1393.2 729.3L1394.6 763.8M1395.3 781.2L1396.6 814.9M1397.4 832.3L1398.7 864.6M1399.4 881.9L1400.8 912.1M1401.5 929.5L1402.8 957M1403.6 974.4L1404.8 998.6M1405.7 1016L1406.8 1036.4M1407.9 1053.8L1408.8 1070M1410 1087.4L1410.8 1098.9M1412.2 1116.2L1412.8 1122.7M1428.7 1125.2L1429.3 1117.2M1430.6 1099.8L1431.5 1085.7M1432.6 1068.4L1433.7 1048.6M1434.6 1031.2L1435.8 1006.2M1436.6 988.8L1437.9 959.1M1438.6 941.7L1440 907.9M1440.7 890.5L1442.1 853.3M1442.7 835.9L1444.2 795.9M1444.8 778.5L1446.2 736.5M1446.8 719.1L1448.3 675.8M1448.9 658.4L1450.4 614.7M1451 597.3L1452.4 553.8M1453 536.4L1454.5 493.9M1455.1 476.5L1456.5 435.8M1457.2 418.5L1458.6 380.3M1459.3 362.9L1460.6 328M1461.4 310.7L1462.7 279.7M1463.5 262.3L1464.7 235.8M1465.6 218.4L1466.7 197M1467.7 179.6L1468.7 163.8M1469.9 146.4L1470.6 136.5M1486.4 133.1L1487.1 142.6M1488.4 159.9L1489.3 175.7M1490.3 193.1L1491.5 214.7M1492.3 232.1L1493.6 259M1494.4 276.4L1495.7 308.2M1496.4 325.6L1497.8 361.6M1498.4 379L1499.9 418.6M1500.5 436L1502 478.4M1502.5 495.8L1504 540.3M1504.6 557.7L1506.1 603.5M1506.7 620.9L1508.2 667.3M1508.7 684.7L1510.2 730.9M1510.8 748.3L1512.3 793.4M1512.9 810.8L1514.3 854.2M1515 871.6L1516.4 912.3M1517 929.7L1518.4 967.3M1519.1 984.6L1520.5 1018.2M1521.2 1035.6L1522.5 1064.6M1523.3 1082L1524.5 1105.8M1525.5 1123.1L1526.5 1141.3M1527.6 1158.7L1528.5 1170.7M1529.9 1188.1L1530.4 1193.7M1544.3 1187.5L1544.9 1180.9M1546.2 1163.5L1547.1 1150.9M1548.2 1133.6L1549.2 1115.4M1550.2 1098L1551.4 1074.6M1552.2 1057.2L1553.5 1029.2M1554.2 1011.8L1555.6 979.6M1556.3 962.2L1557.6 926.4M1558.3 909L1559.7 870.3M1560.4 852.9L1561.8 812M1562.4 794.6L1563.9 752.1M1564.5 734.7L1565.9 691.4M1566.5 674L1568 630.5M1568.6 613.1L1570.1 570.3M1570.7 552.9L1572.1 511.4M1572.7 494.1L1574.2 454.6M1574.8 437.2L1576.2 400.5M1576.9 383.1L1578.3 349.8M1579 332.4L1580.3 303M1581.1 285.6L1582.3 260.8M1583.2 243.4L1584.3 223.6M1585.4 206.2L1586.3 191.9M1587.6 174.6L1588.2 166.1" stroke="#ff0000" stroke-width="5" fill="none"/>
<path d="M255.7 1232.6h0M257.7 1226.6h0M259.8 1213.1h0M261.9 1192.4h0M263.9 1164.8h0M266 1130.5h0M268 1090.1h0M270.1 1044.1h0M272.2 993h0M274.2 937.6h0M276.3 878.6h0M278.4 816.8h0M280.4 753h0M282.5 688h0M284.6 622.7h0M286.6 558h0M288.7 494.6h0M290.8 433.6h0M292.8 375.6h0M294.9 321.4h0M296.9 271.8h0M299 227.4h0M301.1 188.8h0M303.1 156.4h0M305.2 130.8h0M307.3 112.3h0M309.3 101.1h0M311.4 97.3h0M313.5 100.7h0M315.5 110.7h0M317.6 127.1h0M319.6 149.9h0M321.7 178.7h0M323.8 213.2h0M325.8 252.8h0M327.9 297.1h0M330 345.6h0M332 397.6h0M334.1 452.4h0M336.2 509.4h0M338.2 567.8h0M340.3 626.9h0M342.3 685.9h0M344.4 744h0M346.5 800.6h0M348.5 855h0M350.6 906.3h0M352.7 954h0M354.7 997.4h0M356.8 1036h0M358.9 1069.4h0M360.9 1097h0M363 1118.5h0M365.1 1133.7h0M367.1 1142.4h0M369.2 1144.4h0M371.2 1140.7h0M373.3 1131.5h0M375.4 1117.2h0M377.4 1097.8h0M379.5 1073.6h0M381.6 1044.9h0M383.6 1012h0M385.7 975.4h0M387.8 935.6h0M389.8 893h0M391.9 848.1h0M393.9 801.6h0M396 754h0M398.1 705.9h0M400.1 658h0M402.2 610.8h0M404.3 564.8h0M406.3 520.8h0M408.4 479.3h0M410.5 440.7h0M412.5 405.5h0M414.6 374.3h0M416.6 347.3h0M418.7 325h0M420.8 307.6h0M422.8 295.3h0M424.9 288.3h0M427 286.7h0M429 289.7h0M431.1 296.8h0M433.2 308.1h0M435.2 323.3h0M437.3 342.2h0M439.4 364.7h0M441.4 390.3h0M443.5 418.7h0M445.5 449.6h0M447.6 482.5h0M449.7 516.9h0M451.7 552.5h0M453.8 588.7h0M455.9 625h0M457.9 660.9h0M460 696h0M462.1 729.7h0M464.1 761.7h0M466.2 791.4h0M468.2 818.5h0M470.3 842.5h0M472.4 863.2h0M474.4 880.4h0M476.5 893.6h0M478.6 902.8h0M480.6 907.9h0M482.7 908.9h0M484.8 907.1h0M486.8 903h0M488.9 896.9h0M490.9 888.6h0M493 878.4h0M495.1 866.4h0M497.1 852.7h0M499.2 837.6h0M501.3 821.3h0M503.3 803.9h0M505.4 785.8h0M507.5 767.3h0M509.5 748.5h0M511.6 729.7h0M513.7 711.2h0M515.7 693.3h0M517.8 676.3h0M519.8 660.3h0M521.9 645.6h0M524 632.4h0M526 620.9h0M528.1 611.3h0M530.2 603.6h0M532.2 598.1h0M534.3 594.7h0M536.4 593.6h0M538.4 594.2h0M540.5 596.1h0M542.5 599.1h0M544.6 603.2h0M546.7 608.2h0M548.7 614.1h0M550.8 620.5h0M552.9 627.4h0M554.9 634.5h0M557 641.5h0M559.1 648.4h0M561.1 654.8h0M563.2 660.6h0M565.2 665.5h0M567.3 669.5h0M569.4 672.4h0M571.4 674.1h0M573.5 674.6h0M575.6 673.7h0M577.6 671.2h0M579.7 667.1h0M581.8 661.8h0M583.8 655.2h0M585.9 647.6h0M588 639.2h0M590 630.4h0M592.1 621.2h0M594.1 612.1h0M596.2 603.4h0M598.3 595.1h0M600.3 587.7h0M602.4 581.4h0M604.5 576.3h0M606.5 572.5h0M608.6 570.3h0M610.7 569.7h0M612.7 571.2h0M614.8 575.3h0M616.8 581.8h0M618.9 590.7h0M621 601.9h0M623 615.1h0M625.1 630.3h0M627.2 647.2h0M629.2 665.5h0M631.3 685h0M633.4 705.5h0M635.4 726.6h0M637.5 748h0M639.5 769.5h0M641.6 790.8h0M643.7 811.5h0M645.7 831.3h0M647.8 850h0M649.9 867.4h0M651.9 883.1h0M654 896.9h0M656.1 908.7h0M658.1 918.3h0M660.2 925.6h0M662.3 930.4h0M664.3 932.7h0M666.4 932.1h0M668.4 927.3h0M670.5 918.1h0M672.6 904.8h0M674.6 887.5h0M676.7 866.4h0M678.8 841.8h0M680.8 813.9h0M682.9 783.3h0M685 750.3h0M687 715.3h0M689.1 678.8h0M691.1 641.3h0M693.2 603.2h0M695.3 565.1h0M697.3 527.5h0M699.4 490.9h0M701.5 455.7h0M703.5 422.5h0M705.6 391.6h0M707.7 363.5h0M709.7 338.6h0M711.8 317.1h0M713.8 299.4h0M715.9 285.6h0M718 276.1h0M720 270.8h0M722.1 270h0M724.2 274.4h0M726.2 284.3h0M728.3 299.4h0M730.4 319.7h0M732.4 344.9h0M734.5 374.7h0M736.6 408.7h0M738.6 446.4h0M740.7 487.5h0M742.7 531.3h0M744.8 577.5h0M746.9 625.3h0M748.9 674.2h0M751 723.6h0M753.1 772.9h0M755.1 821.4h0M757.2 868.6h0M759.3 913.9h0M761.3 956.7h0M763.4 996.5h0M765.4 1032.8h0M767.5 1065.2h0M769.6 1093.1h0M771.6 1116.4h0M773.7 1134.7h0M775.8 1147.8h0M777.8 1155.4h0M779.9 1157.6h0M782 1153.5h0M784 1142.7h0M786.1 1125.2h0M788.2 1101.4h0M790.2 1071.4h0M792.3 1035.8h0M794.3 994.8h0M796.4 949.2h0M798.5 899.4h0M800.5 846.1h0M802.6 789.9h0M804.7 731.6h0M806.7 672h0M808.8 611.7h0M810.9 551.6h0M812.9 492.4h0M815 434.9h0M817 379.8h0M819.1 327.8h0M821.2 279.6h0M823.2 235.8h0M825.3 196.9h0M827.4 163.5h0M829.4 135.9h0M831.5 114.6h0M833.6 99.7h0M835.6 91.6h0M837.7 90.2h0M839.7 96.2h0M841.8 109.4h0M843.9 129.7h0M845.9 156.9h0M848 190.7h0M850.1 230.5h0M852.1 275.9h0M854.2 326.3h0M856.3 381h0M858.3 439.3h0M860.4 500.5h0M862.5 563.8h0M864.5 628.4h0M866.6 693.3h0M868.6 757.8h0M870.7 821.1h0M872.8 882.3h0M874.8 940.6h0M876.9 995.3h0M879 1045.7h0M881 1091.1h0M883.1 1131h0M885.2 1164.7h0M887.2 1191.9h0M889.3 1212.3h0M891.3 1225.5h0M893.4 1231.4h0M895.5 1230.1h0M897.5 1222.1h0M899.6 1207.5h0M901.7 1186.5h0M903.7 1159.4h0M905.8 1126.5h0M907.9 1088.1h0M909.9 1044.7h0M912 996.9h0M914 945.1h0M916.1 890.1h0M918.2 832.5h0M920.2 772.9h0M922.3 712.1h0M924.4 650.8h0M926.4 589.7h0M928.5 529.5h0M930.6 471h0M932.6 414.9h0M934.7 361.8h0M936.8 312.3h0M938.8 267.1h0M940.9 226.6h0M942.9 191.5h0M945 162h0M947.1 138.5h0M949.1 121.3h0M951.2 110.7h0M953.3 106.7h0M955.3 109.2h0M957.4 118.1h0M959.5 133.1h0M961.5 154.2h0M963.6 181.1h0M965.6 213.4h0M967.7 250.7h0M969.8 292.6h0M971.8 338.5h0M973.9 387.9h0M976 440.2h0M978 494.7h0M980.1 550.7h0M982.2 607.6h0M984.2 664.6h0M986.3 721h0M988.3 776.2h0M990.4 829.4h0M992.5 880.1h0M994.5 927.5h0M996.6 971h0M998.7 1010.2h0M1000.7 1044.6h0M1002.8 1073.6h0M1004.9 1097.1h0M1006.9 1114.6h0M1009 1125.9h0M1011.1 1131h0M1013.1 1130h0M1015.2 1123.7h0M1017.2 1112.1h0M1019.3 1095.6h0M1021.4 1074.2h0M1023.4 1048.2h0M1025.5 1018h0M1027.6 984h0M1029.6 946.6h0M1031.7 906.3h0M1033.8 863.6h0M1035.8 819.1h0M1037.9 773.4h0M1039.9 727h0M1042 680.5h0M1044.1 634.5h0M1046.1 589.7h0M1048.2 546.6h0M1050.3 505.8h0M1052.3 467.8h0M1054.4 433.1h0M1056.5 402.1h0M1058.5 375.3h0M1060.6 353h0M1062.6 335.4h0M1064.7 322.8h0M1066.8 315.5h0M1068.8 313.3h0M1070.9 315.6h0M1073 321.7h0M1075 331.5h0M1077.1 344.8h0M1079.2 361.5h0M1081.2 381.5h0M1083.3 404.3h0M1085.4 429.7h0M1087.4 457.4h0M1089.5 486.9h0M1091.5 518h0M1093.6 550.2h0M1095.7 583h0M1097.7 616h0M1099.8 648.9h0M1101.9 681h0M1103.9 712.1h0M1106 741.7h0M1108.1 769.4h0M1110.1 794.8h0M1112.2 817.6h0M1114.2 837.5h0M1116.3 854.2h0M1118.4 867.6h0M1120.4 877.4h0M1122.5 883.4h0M1124.6 885.7h0M1126.6 884.9h0M1128.7 881.9h0M1130.8 876.9h0M1132.8 869.9h0M1134.9 861h0M1136.9 850.5h0M1139 838.3h0M1141.1 824.8h0M1143.1 810.1h0M1145.2 794.5h0M1147.3 778.3h0M1149.3 761.6h0M1151.4 744.8h0M1153.5 728.1h0M1155.5 711.8h0M1157.6 696.1h0M1159.7 681.4h0M1161.7 667.7h0M1163.8 655.4h0M1165.8 644.7h0M1167.9 635.7h0M1170 628.5h0M1172 623.2h0M1174.1 620.1h0M1176.2 619h0M1178.2 619.5h0M1180.3 621h0M1182.4 623.5h0M1184.4 626.8h0M1186.5 630.9h0M1188.5 635.6h0M1190.6 640.8h0M1192.7 646.3h0M1194.7 652h0M1196.8 657.5h0M1198.9 662.9h0M1200.9 667.8h0M1203 672.1h0M1205.1 675.8h0M1207.1 678.6h0M1209.2 680.5h0M1211.2 681.4h0M1213.3 681.2h0M1215.4 679.2h0M1217.4 675.4h0M1219.5 670h0M1221.6 663.1h0M1223.6 654.8h0M1225.7 645.4h0M1227.8 635.2h0M1229.8 624.3h0M1231.9 613.2h0M1234 602.1h0M1236 591.3h0M1238.1 581h0M1240.1 571.7h0M1242.2 563.4h0M1244.3 556.5h0M1246.3 551h0M1248.4 547.3h0M1250.5 545.3h0M1252.5 545.2h0M1254.6 547.8h0M1256.7 553.3h0M1258.7 561.6h0M1260.8 572.6h0M1262.8 586.1h0M1264.9 602h0M1267 619.9h0M1269 639.7h0M1271.1 661.1h0M1273.2 683.8h0M1275.2 707.4h0M1277.3 731.5h0M1279.4 756h0M1281.4 780.4h0M1283.5 804.3h0M1285.5 827.5h0M1287.6 849.5h0M1289.7 870.1h0M1291.7 889.1h0M1293.8 906h0M1295.9 920.7h0M1297.9 933h0M1300 942.6h0M1302.1 949.6h0M1304.1 953.6h0M1306.2 954.8h0M1308.3 952.1h0M1310.3 945.1h0M1312.4 933.7h0M1314.4 918.2h0M1316.5 898.6h0M1318.6 875.4h0M1320.6 848.7h0M1322.7 818.9h0M1324.8 786.4h0M1326.8 751.6h0M1328.9 714.9h0M1331 676.7h0M1333 637.7h0M1335.1 598.2h0M1337.1 558.7h0M1339.2 519.8h0M1341.3 481.9h0M1343.3 445.6h0M1345.4 411.2h0M1347.5 379.2h0M1349.5 350h0M1351.6 323.9h0M1353.7 301.4h0M1355.7 282.7h0M1357.8 268h0M1359.9 257.4h0M1361.9 251.2h0M1364 249.5h0M1366 253h0M1368.1 262.4h0M1370.2 277.4h0M1372.2 298h0M1374.3 323.9h0M1376.4 354.7h0M1378.4 390h0M1380.5 429.4h0M1382.6 472.4h0M1384.6 518.4h0M1386.7 566.9h0M1388.7 617.1h0M1390.8 668.6h0M1392.9 720.6h0M1394.9 772.5h0M1397 823.6h0M1399.1 873.3h0M1401.1 920.8h0M1403.2 965.7h0M1405.3 1007.3h0M1407.3 1045.1h0M1409.4 1078.7h0M1411.4 1107.5h0M1413.5 1131.3h0M1415.6 1149.7h0M1417.6 1162.5h0M1419.7 1169.6h0M1421.8 1170.7h0M1423.8 1165.2h0M1425.9 1152.9h0M1428 1133.9h0M1430 1108.5h0M1432.1 1077h0M1434.2 1039.9h0M1436.2 997.5h0M1438.3 950.4h0M1440.3 899.2h0M1442.4 844.6h0M1444.5 787.2h0M1446.5 727.8h0M1448.6 667.1h0M1450.7 606h0M1452.7 545.1h0M1454.8 485.2h0M1456.9 427.2h0M1458.9 371.6h0M1461 319.3h0M1463 271h0M1465.1 227.1h0M1467.2 188.3h0M1469.2 155.1h0M1471.3 127.8h0M1473.4 106.9h0M1475.4 92.6h0M1477.5 85h0M1479.6 84.3h0M1481.6 90.7h0M1483.7 104.1h0M1485.7 124.4h0M1487.8 151.2h0M1489.9 184.4h0M1491.9 223.4h0M1494 267.7h0M1496.1 316.9h0M1498.1 370.3h0M1500.2 427.3h0M1502.3 487.1h0M1504.3 549h0M1506.4 612.2h0M1508.5 676h0M1510.5 739.6h0M1512.6 802.1h0M1514.6 862.9h0M1516.7 921h0M1518.8 975.9h0M1520.8 1026.9h0M1522.9 1073.3h0M1525 1114.5h0M1527 1150h0M1529.1 1179.4h0M1531.2 1202.3h0M1533.2 1218.5h0M1535.3 1227.7h0M1537.3 1229.9h0M1539.4 1225.2h0M1541.5 1213.9h0M1543.5 1196.2h0M1545.6 1172.2h0M1547.7 1142.3h0M1549.7 1106.7h0M1551.8 1065.9h0M1553.9 1020.5h0M1555.9 970.9h0M1558 917.7h0M1560 861.6h0M1562.1 803.3h0M1564.2 743.4h0M1566.2 682.7h0M1568.3 621.8h0M1570.4 561.6h0M1572.4 502.7h0M1574.5 445.9h0M1576.6 391.8h0M1578.6 341.1h0M1580.7 294.3h0M1582.8 252.1h0M1584.8 214.9h0M1586.9 183.2h0M1588.9 157.4h0M1591 137.8h0M1593.1 124.6h0M1595.1 117.9h0" stroke="#ff0000" stroke-width="15.5" stroke-linecap="round" fill="none"/>
<path d="M253.6 69.3V1255.9M230.6 71.8H1721.3M242.6 1116.8H253.6M1698.3 1116.8H1709.3M230.6 1000.7H253.6M1698.3 1000.7H1721.3M242.6 884.6H253.6M1698.3 884.6H1709.3M230.6 768.5H253.6M1698.3 768.5H1721.3M242.6 652.3H253.6M1698.3 652.3H1709.3M230.6 536.2H253.6M1698.3 536.2H1721.3M242.6 420.1H253.6M1698.3 420.1H1709.3M230.6 304H253.6M1698.3 304H1721.3M242.6 187.9H253.6M1698.3 187.9H1709.3M356.8 1232.9V1245.1M460 1232.9V1255.9M563.2 1232.9V1245.1M666.4 1232.9V1255.9M769.6 1232.9V1245.1M872.8 1232.9V1255.9M976 1232.9V1245.1M1079.2 1232.9V1255.9M1182.4 1232.9V1245.1M1285.5 1232.9V1255.9M1388.7 1232.9V1245.1M1491.9 1232.9V1255.9M1595.1 1232.9V1245.1" stroke="#000" stroke-width="5" fill="none"/>
<path d="M1698.3 69.3V1255.9M230.6 1232.9H1721.3" stroke="#000" stroke-width="6" fill="none"/>
<text transform="translate(216.2 1253.3) scale(1 1.065)" text-anchor="end" font-size="66.5" font-family="Liberation Sans, Arial, sans-serif" font-weight="bold">0.0</text>
<text transform="translate(1736.63 1253.3) scale(1 1.065)" text-anchor="start" font-size="66.5" font-family="Liberation Sans, Arial, sans-serif" font-weight="bold">0.0</text>
<text transform="translate(216.2 1021.08) scale(1 1.065)" text-anchor="end" font-size="66.5" font-family="Liberation Sans, Arial, sans-serif" font-weight="bold">0.2</text>
<text transform="translate(1736.63 1021.08) scale(1 1.065)" text-anchor="start" font-size="66.5" font-family="Liberation Sans, Arial, sans-serif" font-weight="bold">0.2</text>
<text transform="translate(216.2 788.86) scale(1 1.065)" text-anchor="end" font-size="66.5" font-family="Liberation Sans, Arial, sans-serif" font-weight="bold">0.4</text>
<text transform="translate(1736.63 788.86) scale(1 1.065)" text-anchor="start" font-size="66.5" font-family="Liberation Sans, Arial, sans-serif" font-weight="bold">0.4</text>
<text transform="translate(216.2 556.64) scale(1 1.065)" text-anchor="end" font-size="66.5" font-family="Liberation Sans, Arial, sans-serif" font-weight="bold">0.6</text>
<text transform="translate(1736.63 556.64) scale(1 1.065)" text-anchor="start" font-size="66.5" font-family="Liberation Sans, Arial, sans-serif" font-weight="bold">0.6</text>
<text transform="translate(216.2 324.42) scale(1 1.065)" text-anchor="end" font-size="66.5" font-family="Liberation Sans, Arial, sans-serif" font-weight="bold">0.8</text>
<text transform="translate(1736.63 324.42) scale(1 1.065)" text-anchor="start" font-size="66.5" font-family="Liberation Sans, Arial, sans-serif" font-weight="bold">0.8</text>
<text transform="translate(216.2 92.2) scale(1 1.065)" text-anchor="end" font-size="66.5" font-family="Liberation Sans, Arial, sans-serif" font-weight="bold">1.0</text>
<text transform="translate(1736.63 92.2) scale(1 1.065)" text-anchor="start" font-size="66.5" font-family="Liberation Sans, Arial, sans-serif" font-weight="bold">1.0</text>
<text transform="translate(253.6 1324.1) scale(1 1.065)" text-anchor="middle" font-size="66.5" font-family="Liberation Sans, Arial, sans-serif" font-weight="bold">0</text>
<text transform="translate(459.99 1324.1) scale(1 1.065)" text-anchor="middle" font-size="66.5" font-family="Liberation Sans, Arial, sans-serif" font-weight="bold">100</text>
<text transform="translate(666.38 1324.1) scale(1 1.065)" text-anchor="middle" font-size="66.5" font-family="Liberation Sans, Arial, sans-serif" font-weight="bold">200</text>
<text transform="translate(872.77 1324.1) scale(1 1.065)" text-anchor="middle" font-size="66.5" font-family="Liberation Sans, Arial, sans-serif" font-weight="bold">300</text>
<text transform="translate(1079.16 1324.1) scale(1 1.065)" text-anchor="middle" font-size="66.5" font-family="Liberation Sans, Arial, sans-serif" font-weight="bold">400</text>
<text transform="translate(1285.55 1324.1) scale(1 1.065)" text-anchor="middle" font-size="66.5" font-family="Liberation Sans, Arial, sans-serif" font-weight="bold">500</text>
<text transform="translate(1491.94 1324.1) scale(1 1.065)" text-anchor="middle" font-size="66.5" font-family="Liberation Sans, Arial, sans-serif" font-weight="bold">600</text>
<text transform="translate(1698.33 1324.1) scale(1 1.065)" text-anchor="middle" font-size="66.5" font-family="Liberation Sans, Arial, sans-serif" font-weight="bold">700</text>
<text transform="translate(977.46 1401.1) scale(1 1.062)" text-anchor="middle" font-size="66.3" font-family="Liberation Sans, Arial, sans-serif" font-weight="bold">Length (mm)</text>
<text transform="translate(976.46 1483.9) scale(1 1.02)" text-anchor="middle" font-size="66.3" font-family="Liberation Sans, Arial, sans-serif" font-weight="bold">(a)</text>
<text transform="translate(81.8 653.75) rotate(-90) scale(0.984 1.062)" text-anchor="middle" font-size="66.3" font-family="Liberation Sans, Arial, sans-serif" font-weight="bold">Purity</text>
<text transform="translate(1902.33 652.35) rotate(-90) scale(1 1.062)" text-anchor="middle" font-size="66.3" font-family="Liberation Sans, Arial, sans-serif" font-weight="bold">ECE</text>
<rect x="345.2" y="79.5" width="357.9" height="209.7" fill="#fff" stroke="#000" stroke-width="2"/>
<path d="M350.5 132.3H494" stroke="#0000ff" stroke-width="5.2"/>
<rect x="415" y="125.3" width="14" height="14" fill="#0000ff"/>
<text transform="translate(509 154.2) scale(1 1.06)" text-anchor="start" font-size="60.4" font-family="Liberation Sans, Arial, sans-serif" font-weight="bold">OAM</text>
<text x="648.6" y="134.2" font-size="46.8" font-family="Liberation Serif, serif" stroke="#000" stroke-width="0.7">+</text>
<text x="648.6" y="174.9" font-size="46.8" font-family="Liberation Serif, serif" stroke="#000" stroke-width="0.7">+</text>
<text transform="translate(673 170.4) scale(1 1.065)" text-anchor="start" font-size="41" font-family="Liberation Sans, Arial, sans-serif" font-weight="bold">1</text>
<path d="M350.5 233.4H494" stroke="#ff0000" stroke-width="5.2"/>
<circle cx="422" cy="233.4" r="7.4" fill="#ff0000"/>
<text transform="translate(509 255.3) scale(1 1.06)" text-anchor="start" font-size="60.4" font-family="Liberation Sans, Arial, sans-serif" font-weight="bold">OAM</text>
<text x="648.6" y="235.3" font-size="46.8" font-family="Liberation Serif, serif" stroke="#000" stroke-width="0.7">+</text>
<text x="648.6" y="276" font-size="46.8" font-family="Liberation Serif, serif" stroke="#000" stroke-width="0.7">+</text>
<text transform="translate(673 271.5) scale(1 1.065)" text-anchor="start" font-size="41" font-family="Liberation Sans, Arial, sans-serif" font-weight="bold">1</text>
<circle cx="480.9" cy="886.3" r="44.2" fill="none" stroke="#000" stroke-width="9.3"/>
<path d="M527.9 887.3H590" stroke="#000" stroke-width="8.7"/>
<path d="M588.7 874.5L635.6 887.3L588.7 900.1Z" fill="#000" stroke="#000" stroke-width="5" stroke-linejoin="round"/>
<circle cx="1183.5" cy="1136" r="44.2" fill="none" stroke="#000" stroke-width="9.3"/>
<path d="M1136.5 1140.5H1083" stroke="#000" stroke-width="8.7"/>
<path d="M1084.4 1127.7L1037.5 1140.5L1084.4 1153.3Z" fill="#000" stroke="#000" stroke-width="5" stroke-linejoin="round"/>
<path d="M253 2091.8L254.2 2118.7M255.3 2136.1L256.1 2147M573.2 2217.9L573.8 2223.6M575.3 2240.9L575.8 2246.5M635.2 2189.3L635.7 2183.4M637.1 2166.1L637.8 2157.9M639.2 2140.5L639.9 2130.9M641.2 2113.6L642 2103.9M643.3 2086.5L644.1 2076.3M645.4 2058.9L646.1 2048.9M647.5 2031.5L648.1 2023M649.6 2005.6L650.1 1999M665.9 1978.3L666.9 1993.2M667.9 2010.5L668.9 2026.4M670 2043.8L671 2062.3M672 2079.6L673.1 2100.1M674.1 2117.5L675.2 2139.1M676.1 2156.5L677.3 2176.9M678.2 2194.2L679.3 2213.2M680.3 2230.6L681.3 2246.3M682.4 2263.7L683.3 2277.7M684.6 2295L685.3 2304.6M686.7 2321.9L687.3 2329.4M754.8 2341.9L755.4 2335.1M756.7 2317.7L757.6 2304.9M758.7 2287.5L759.8 2269M760.7 2251.6L761.9 2224.1M762.7 2206.7L764.1 2170.9M764.7 2153.5L766.2 2105.5M766.7 2088.1L768.3 2030.1M768.8 2012.7L770.4 1948.3M770.8 1930.9L772.4 1873.7M773 1856.3L774.4 1826.4M777.1 1826.4L778.5 1862.9M779 1880.3L780.7 1956.9M781.1 1974.3L782.8 2061.4M783.2 2078.8L784.9 2159.3M785.3 2176.7L786.9 2236.8M787.4 2254.2L788.9 2300.6M789.5 2318L790.9 2352.9M791.7 2370.3L792.9 2393.5M793.9 2410.9L794.8 2424.9M796.1 2442.2L796.7 2450.4M889 2533.6L889.6 2540.1M890.4 2557.4L892.3 2749.2M892.8 2749.2L894 2720.9M894.9 2703.5L896.1 2680.3M897 2662.9L898.1 2643.3M988.1 2519.3L988.6 2513.4M990 2496.1L990.8 2483.6M991.9 2466.2L993 2446.2M993.9 2428.8L995.2 2398.8M995.9 2381.4L997.3 2338.6M997.9 2321.2L999.4 2266.8M999.9 2249.4L1001.5 2185.8M1002 2168.4L1003.6 2102.3M1004.1 2084.9L1005.6 2031.2M1006.3 2013.8L1007.6 1985.6M1010.6 1976.4L1011.4 1987.3M1012.4 2004.6L1013.8 2040.5M1014.4 2057.9L1015.9 2107.9M1016.5 2125.3L1018 2176.4M1018.5 2193.8L1020.1 2241.4M1020.6 2258.8L1022.1 2298.7M1022.7 2316L1024.1 2350.6M1024.9 2367.9L1026.1 2391.4M1027 2408.8L1028.1 2427.5M1029.1 2444.9L1030.1 2459.9M1031.3 2477.3L1032.1 2488.6M1033.4 2506L1034.1 2513.7M1091.2 2550.8L1091.9 2542.2M1093.2 2524.8L1094.1 2511.2M1095.1 2493.9L1096.2 2476.1M1097.2 2458.7L1098.3 2436.6M1099.2 2419.2L1100.4 2392.8M1101.2 2375.5L1102.5 2344.3M1103.2 2326.9L1104.6 2291.6M1105.3 2274.2L1106.7 2233.8M1107.3 2216.4L1108.8 2175.3M1109.4 2157.9L1110.8 2118.4M1111.5 2101L1112.9 2061.7M1113.5 2044.3L1114.9 2007.3M1115.6 1989.9L1117 1958.4M1117.8 1941.1L1118.9 1920M1119.9 1902.6L1120.9 1885.5M1134.4 1920L1135.4 1937M1136.4 1954.4L1137.5 1976.7M1138.4 1994.1L1139.6 2021.9M1140.4 2039.3L1141.7 2066.6M1142.5 2084L1143.8 2113.2M1144.5 2130.6L1145.9 2161.8M1146.6 2179.2L1147.9 2207.1M1148.7 2224.4L1150 2252.6M1150.8 2270L1152 2297.7M1152.8 2315.1L1154.1 2341.9M1154.9 2359.2L1156.1 2384.6M1157 2402L1158.2 2424.8M1159.1 2442.2L1160.2 2461.3M1161.1 2478.7L1162.3 2500.1M1163.3 2517.4L1164.3 2534M1165.4 2551.4L1166.3 2564.9M1167.5 2582.2L1168.3 2593.5M1169.6 2610.9L1170.3 2620.3M1171.7 2637.7L1172.4 2646.3M1173.8 2663.7L1174.4 2670.6M1194.4 2656.4L1195.1 2647.9M1196.3 2630.5L1197.3 2614.4M1198.3 2597.1L1199.4 2577.7M1200.3 2560.4L1201.5 2535.3M1202.3 2517.9L1203.6 2487.8M1204.4 2470.4L1205.7 2437.5M1206.4 2420.1L1207.8 2383.5M1208.5 2366.1L1209.9 2328.9M1210.5 2311.5L1212 2272.2M1212.6 2254.8L1214 2216M1214.7 2198.6L1216.1 2160.9M1216.7 2143.5L1218.1 2107.7M1218.8 2090.4L1220.2 2057.7M1220.9 2040.3L1222.2 2010.9M1223 1993.5L1224.2 1968.1M1225.1 1950.7L1226.3 1929.5M1227.3 1912.1L1228.3 1895.8M1229.4 1878.5L1230.2 1866.7M1231.6 1849.3L1232.2 1842.5M1258.5 1877.2L1259 1883M1260.4 1900.4L1261.2 1912.7M1262.5 1930L1263.2 1937.5M1264.4 1954.8L1265.4 1971.2M1266.4 1988.6L1267.5 2007.4M1268.5 2024.7L1269.6 2046.2M1270.5 2063.6L1271.7 2089M1272.5 2106.4L1273.8 2138.6M1274.6 2156L1275.9 2182.9M1276.6 2200.3L1278 2240.7M1278.6 2258L1280.1 2297.1M1280.7 2314.5L1282.1 2356.4M1282.8 2373.7L1284.2 2415.6M1284.8 2433L1286.3 2473.6M1286.9 2491L1288.3 2529.4M1289 2546.8L1290.4 2581.6M1291.1 2599L1292.4 2628.1M1293.2 2645.4L1294.4 2668.7M1295.3 2686.1L1296.4 2703.5M1297.5 2720.9L1298.3 2732.6M1301.6 2755.2L1302.5 2741.1M1303.5 2723.7L1304.8 2693.3M1305.4 2675.9L1306.9 2631.7M1307.5 2614.4L1309 2562.3M1309.5 2544.9L1311.1 2488.2M1311.6 2470.8L1313.2 2412.5M1313.6 2395.1L1315.2 2336.7M1315.7 2319.3L1317.3 2261.6M1317.8 2244.2L1319.4 2186.9M1319.9 2169.5L1321.4 2120M1322 2102.7L1323.4 2062.9M1324.1 2045.5L1325.4 2011.5M1326.2 1994.1L1327.5 1964.9M1328.3 1947.5L1329.5 1925.7M1330.5 1908.3L1331.4 1892.6M1332.6 1875.2L1333.4 1862.7M1334.8 1845.4L1335.4 1838.1M1392.6 1869.2L1393.1 1874.9M1394.5 1892.2L1395.3 1904M1396.5 1921.4L1397.5 1939.7M1398.4 1957L1399.7 1983.3M1400.4 2000.7L1401.8 2035.4M1402.4 2052.8L1403.9 2101.6M1404.4 2119L1406.1 2184.4M1406.5 2201.8L1408.2 2284.7M1408.5 2302.1L1410.3 2408M1410.5 2425.4L1412.3 2546.7M1412.6 2564.1L1414.4 2678M1414.7 2695.4L1416.4 2784.2M1418.8 2805.7L1420.6 2718.6M1420.8 2701.2L1422.7 2563M1422.9 2545.6L1424.8 2384.2M1425 2366.8L1426.8 2227.5M1427.1 2210.1L1428.8 2097.4M1429.2 2080L1430.9 2001M1431.3 1983.6L1432.9 1927.9M1433.5 1910.5L1434.8 1875.1M1435.6 1857.7L1436.8 1835M1437.8 1817.6L1438.7 1804.8M1530.3 1764.2L1532 1853.6M1532.3 1871L1534.2 2086.5M1534.4 2086.5L1536.1 2012.6M1536.4 1995.3L1538.3 1850.1M1538.6 1832.7L1540.2 1781.6M1541 1764.2L1541.9 1750.6" stroke="#0000ff" stroke-width="5" fill="none"/>
<path d="M245.6 2076.1h14v14h-14zM247.6 2120.4h14v14h-14zM249.7 2148.7h14v14h-14zM251.8 2165.9h14v14h-14zM253.8 2175.8h14v14h-14zM255.9 2181.3h14v14h-14zM257.9 2185.1h14v14h-14zM260 2187.6h14v14h-14zM262.1 2189.7h14v14h-14zM264.1 2190.9h14v14h-14zM266.2 2191.5h14v14h-14zM268.3 2192.1h14v14h-14zM270.3 2192.4h14v14h-14zM272.4 2192.7h14v14h-14zM274.5 2192.7h14v14h-14zM276.5 2192.5h14v14h-14zM278.6 2192h14v14h-14zM280.7 2191.4h14v14h-14zM282.7 2190.7h14v14h-14zM284.8 2189.8h14v14h-14zM286.8 2188.9h14v14h-14zM288.9 2187.9h14v14h-14zM291 2186.9h14v14h-14zM293 2185.9h14v14h-14zM295.1 2185.1h14v14h-14zM297.2 2184.2h14v14h-14zM299.2 2183.4h14v14h-14zM301.3 2182.5h14v14h-14zM303.4 2181.7h14v14h-14zM305.4 2180.9h14v14h-14zM307.5 2180h14v14h-14zM309.5 2179.1h14v14h-14zM311.6 2178.2h14v14h-14zM313.7 2177.2h14v14h-14zM315.7 2176.1h14v14h-14zM317.8 2175.1h14v14h-14zM319.9 2173.9h14v14h-14zM321.9 2172.7h14v14h-14zM324 2171.4h14v14h-14zM326.1 2170h14v14h-14zM328.1 2168.5h14v14h-14zM330.2 2166.7h14v14h-14zM332.2 2164.6h14v14h-14zM334.3 2162.2h14v14h-14zM336.4 2159.6h14v14h-14zM338.4 2156.9h14v14h-14zM340.5 2154.1h14v14h-14zM342.6 2151.4h14v14h-14zM344.6 2148.4h14v14h-14zM346.7 2145.1h14v14h-14zM348.8 2141.5h14v14h-14zM350.8 2138.1h14v14h-14zM352.9 2134.9h14v14h-14zM355 2132.2h14v14h-14zM357 2130.3h14v14h-14zM359.1 2128.8h14v14h-14zM361.1 2127.6h14v14h-14zM363.2 2127h14v14h-14zM365.3 2126.8h14v14h-14zM367.3 2126.7h14v14h-14zM369.4 2126.7h14v14h-14zM371.5 2126.6h14v14h-14zM373.5 2126.5h14v14h-14zM375.6 2126.4h14v14h-14zM377.7 2126h14v14h-14zM379.7 2125.4h14v14h-14zM381.8 2124.6h14v14h-14zM383.8 2123.6h14v14h-14zM385.9 2122.4h14v14h-14zM388 2121.2h14v14h-14zM390 2119.9h14v14h-14zM392.1 2118.6h14v14h-14zM394.2 2117.4h14v14h-14zM396.2 2116.3h14v14h-14zM398.3 2115.4h14v14h-14zM400.4 2114.5h14v14h-14zM402.4 2113.7h14v14h-14zM404.5 2112.9h14v14h-14zM406.5 2112.1h14v14h-14zM408.6 2111.3h14v14h-14zM410.7 2110.6h14v14h-14zM412.7 2109.8h14v14h-14zM414.8 2109.1h14v14h-14zM416.9 2108.4h14v14h-14zM418.9 2107.7h14v14h-14zM421 2107.1h14v14h-14zM423.1 2106.5h14v14h-14zM425.1 2106.1h14v14h-14zM427.2 2106.2h14v14h-14zM429.3 2106.3h14v14h-14zM431.3 2106.6h14v14h-14zM433.4 2106.9h14v14h-14zM435.4 2107.3h14v14h-14zM437.5 2108.2h14v14h-14zM439.6 2110.2h14v14h-14zM441.6 2113h14v14h-14zM443.7 2118.3h14v14h-14zM445.8 2127.5h14v14h-14zM447.8 2136.9h14v14h-14zM449.9 2147.4h14v14h-14zM452 2158.3h14v14h-14zM454 2168.8h14v14h-14zM456.1 2178.7h14v14h-14zM458.1 2188.8h14v14h-14zM460.2 2200.1h14v14h-14zM462.3 2213.5h14v14h-14zM464.3 2227.4h14v14h-14zM466.4 2241.4h14v14h-14zM468.5 2254.7h14v14h-14zM470.5 2266.3h14v14h-14zM472.6 2275.3h14v14h-14zM474.7 2280.6h14v14h-14zM476.7 2283h14v14h-14zM478.8 2282.6h14v14h-14zM480.8 2279.7h14v14h-14zM482.9 2273.9h14v14h-14zM485 2265.2h14v14h-14zM487 2253.6h14v14h-14zM489.1 2240.2h14v14h-14zM491.2 2226.8h14v14h-14zM493.2 2213.5h14v14h-14zM495.3 2200.1h14v14h-14zM497.4 2186.8h14v14h-14zM499.4 2173.4h14v14h-14zM501.5 2160.1h14v14h-14zM503.6 2146.7h14v14h-14zM505.6 2133.4h14v14h-14zM507.7 2120h14v14h-14zM509.7 2106.7h14v14h-14zM511.8 2093.9h14v14h-14zM513.9 2082.3h14v14h-14zM515.9 2071.8h14v14h-14zM518 2062.8h14v14h-14zM520.1 2054.5h14v14h-14zM522.1 2047.3h14v14h-14zM524.2 2041.1h14v14h-14zM526.3 2035.8h14v14h-14zM528.3 2031.4h14v14h-14zM530.4 2028h14v14h-14zM532.4 2025.4h14v14h-14zM534.5 2024h14v14h-14zM536.6 2024.1h14v14h-14zM538.6 2027.1h14v14h-14zM540.7 2032.2h14v14h-14zM542.8 2038.5h14v14h-14zM544.8 2045.6h14v14h-14zM546.9 2052.3h14v14h-14zM549 2060.2h14v14h-14zM551 2072.4h14v14h-14zM553.1 2086.5h14v14h-14zM555.1 2103.4h14v14h-14zM557.2 2121.4h14v14h-14zM559.3 2140.1h14v14h-14zM561.3 2159.7h14v14h-14zM563.4 2180.2h14v14h-14zM565.5 2202.2h14v14h-14zM567.5 2225.2h14v14h-14zM569.6 2248.2h14v14h-14zM571.7 2267h14v14h-14zM573.7 2287.1h14v14h-14zM575.8 2307h14v14h-14zM577.9 2323.8h14v14h-14zM579.9 2338.3h14v14h-14zM582 2351.1h14v14h-14zM584 2361.5h14v14h-14zM586.1 2369.7h14v14h-14zM588.2 2375.5h14v14h-14zM590.2 2379h14v14h-14zM592.3 2380.3h14v14h-14zM594.4 2380.9h14v14h-14zM596.4 2379.5h14v14h-14zM598.5 2375.5h14v14h-14zM600.6 2368.5h14v14h-14zM602.6 2359.8h14v14h-14zM604.7 2351.1h14v14h-14zM606.7 2340.6h14v14h-14zM608.8 2333.7h14v14h-14zM610.9 2326.1h14v14h-14zM612.9 2317.4h14v14h-14zM615 2306.3h14v14h-14zM617.1 2288.6h14v14h-14zM619.1 2269.9h14v14h-14zM621.2 2251.2h14v14h-14zM623.3 2231.5h14v14h-14zM625.3 2211.8h14v14h-14zM627.4 2191h14v14h-14zM629.4 2167.8h14v14h-14zM631.5 2142.2h14v14h-14zM633.6 2115.3h14v14h-14zM635.6 2088.2h14v14h-14zM637.7 2060.6h14v14h-14zM639.8 2033.2h14v14h-14zM641.8 2007.3h14v14h-14zM643.9 1983.4h14v14h-14zM646 1962.2h14v14h-14zM648 1947h14v14h-14zM650.1 1937.2h14v14h-14zM652.2 1932.4h14v14h-14zM654.2 1936h14v14h-14zM656.3 1946.4h14v14h-14zM658.3 1962.6h14v14h-14zM660.4 1994.9h14v14h-14zM662.5 2028.1h14v14h-14zM664.5 2063.9h14v14h-14zM666.6 2101.8h14v14h-14zM668.7 2140.8h14v14h-14zM670.7 2178.5h14v14h-14zM672.8 2214.9h14v14h-14zM674.9 2248h14v14h-14zM676.9 2279.3h14v14h-14zM679 2306.3h14v14h-14zM681 2331.1h14v14h-14zM683.1 2352.1h14v14h-14zM685.2 2371.1h14v14h-14zM687.2 2387.2h14v14h-14zM689.3 2399.3h14v14h-14zM691.4 2412.6h14v14h-14zM693.4 2425.9h14v14h-14zM695.5 2434.9h14v14h-14zM697.6 2440.4h14v14h-14zM699.6 2445h14v14h-14zM701.7 2449.8h14v14h-14zM703.7 2453.8h14v14h-14zM705.8 2456.4h14v14h-14zM707.9 2458.5h14v14h-14zM709.9 2460.1h14v14h-14zM712 2461.2h14v14h-14zM714.1 2460.8h14v14h-14zM716.1 2459.7h14v14h-14zM718.2 2457.9h14v14h-14zM720.3 2455.6h14v14h-14zM722.3 2452.5h14v14h-14zM724.4 2448.6h14v14h-14zM726.5 2444.1h14v14h-14zM728.5 2438.8h14v14h-14zM730.6 2432.7h14v14h-14zM732.6 2426h14v14h-14zM734.7 2419h14v14h-14zM736.8 2411.5h14v14h-14zM738.8 2403.3h14v14h-14zM740.9 2393.5h14v14h-14zM743 2380.8h14v14h-14zM745 2363.5h14v14h-14zM747.1 2343.5h14v14h-14zM749.2 2319.4h14v14h-14zM751.2 2289.2h14v14h-14zM753.3 2253.3h14v14h-14zM755.3 2208.4h14v14h-14zM757.4 2155.2h14v14h-14zM759.5 2089.8h14v14h-14zM761.5 2014.4h14v14h-14zM763.6 1932.6h14v14h-14zM765.7 1858h14v14h-14zM767.7 1810.7h14v14h-14zM769.8 1810.7h14v14h-14zM771.9 1864.6h14v14h-14zM773.9 1958.6h14v14h-14zM776 2063.1h14v14h-14zM778.1 2161h14v14h-14zM780.1 2238.5h14v14h-14zM782.2 2302.3h14v14h-14zM784.2 2354.6h14v14h-14zM786.3 2395.2h14v14h-14zM788.4 2426.6h14v14h-14zM790.4 2452.1h14v14h-14zM792.5 2469.4h14v14h-14zM794.6 2482.4h14v14h-14zM796.6 2493.8h14v14h-14zM798.7 2503.7h14v14h-14zM800.8 2511.1h14v14h-14zM802.8 2515.6h14v14h-14zM804.9 2519.1h14v14h-14zM806.9 2522h14v14h-14zM809 2524.4h14v14h-14zM811.1 2526.4h14v14h-14zM813.1 2528.1h14v14h-14zM815.2 2529.4h14v14h-14zM817.3 2530.7h14v14h-14zM819.3 2531.9h14v14h-14zM821.4 2533h14v14h-14zM823.5 2534.1h14v14h-14zM825.5 2535.2h14v14h-14zM827.6 2536.1h14v14h-14zM829.6 2536.9h14v14h-14zM831.7 2537.7h14v14h-14zM833.8 2538.3h14v14h-14zM835.8 2538.8h14v14h-14zM837.9 2539.2h14v14h-14zM840 2539.4h14v14h-14zM842 2539.4h14v14h-14zM844.1 2539.4h14v14h-14zM846.2 2539.4h14v14h-14zM848.2 2539.4h14v14h-14zM850.3 2539.3h14v14h-14zM852.4 2539.3h14v14h-14zM854.4 2539.2h14v14h-14zM856.5 2539.1h14v14h-14zM858.5 2539.1h14v14h-14zM860.6 2539h14v14h-14zM862.7 2539h14v14h-14zM864.7 2538.9h14v14h-14zM866.8 2538.8h14v14h-14zM868.9 2538.8h14v14h-14zM870.9 2538.6h14v14h-14zM873 2536.9h14v14h-14zM875.1 2532.2h14v14h-14zM877.1 2526.4h14v14h-14zM879.2 2520h14v14h-14zM881.2 2517.9h14v14h-14zM883.3 2541.7h14v14h-14zM885.4 2750.9h14v14h-14zM887.4 2705.2h14v14h-14zM889.5 2664.6h14v14h-14zM891.6 2627.7h14v14h-14zM893.6 2611.5h14v14h-14zM895.7 2603h14v14h-14zM897.8 2598.4h14v14h-14zM899.8 2594.9h14v14h-14zM901.9 2592.8h14v14h-14zM903.9 2591.4h14v14h-14zM906 2590.4h14v14h-14zM908.1 2589.4h14v14h-14zM910.1 2588.6h14v14h-14zM912.2 2588h14v14h-14zM914.3 2587.8h14v14h-14zM916.3 2588h14v14h-14zM918.4 2588.4h14v14h-14zM920.5 2589h14v14h-14zM922.5 2589.6h14v14h-14zM924.6 2590.3h14v14h-14zM926.7 2591h14v14h-14zM928.7 2591.8h14v14h-14zM930.8 2592.6h14v14h-14zM932.8 2593.5h14v14h-14zM934.9 2594.3h14v14h-14zM937 2595.2h14v14h-14zM939 2596.1h14v14h-14zM941.1 2597h14v14h-14zM943.2 2597.8h14v14h-14zM945.2 2598.4h14v14h-14zM947.3 2599h14v14h-14zM949.4 2599.5h14v14h-14zM951.4 2599.7h14v14h-14zM953.5 2599.6h14v14h-14zM955.5 2599.4h14v14h-14zM957.6 2599h14v14h-14zM959.7 2597.9h14v14h-14zM961.7 2596.1h14v14h-14zM963.8 2593.8h14v14h-14zM965.9 2590.3h14v14h-14zM967.9 2585.6h14v14h-14zM970 2579.8h14v14h-14zM972.1 2572.9h14v14h-14zM974.1 2564.1h14v14h-14zM976.2 2553.1h14v14h-14zM978.2 2539.2h14v14h-14zM980.3 2521h14v14h-14zM982.4 2497.7h14v14h-14zM984.4 2467.9h14v14h-14zM986.5 2430.5h14v14h-14zM988.6 2383.1h14v14h-14zM990.6 2322.9h14v14h-14zM992.7 2251.1h14v14h-14zM994.8 2170.1h14v14h-14zM996.8 2086.6h14v14h-14zM998.9 2015.5h14v14h-14zM1001 1969.9h14v14h-14zM1003 1960.7h14v14h-14zM1005.1 1988.9h14v14h-14zM1007.1 2042.2h14v14h-14zM1009.2 2109.6h14v14h-14zM1011.3 2178.1h14v14h-14zM1013.3 2243.1h14v14h-14zM1015.4 2300.3h14v14h-14zM1017.5 2352.2h14v14h-14zM1019.5 2393.1h14v14h-14zM1021.6 2429.2h14v14h-14zM1023.7 2461.6h14v14h-14zM1025.7 2490.3h14v14h-14zM1027.8 2515.4h14v14h-14zM1029.8 2538.3h14v14h-14zM1031.9 2559h14v14h-14zM1034 2577.2h14v14h-14zM1036 2592.9h14v14h-14zM1038.1 2606.9h14v14h-14zM1040.2 2619.1h14v14h-14zM1042.2 2628.9h14v14h-14zM1044.3 2637.1h14v14h-14zM1046.4 2643.5h14v14h-14zM1048.4 2648.3h14v14h-14zM1050.5 2651.8h14v14h-14zM1052.5 2654.1h14v14h-14zM1054.6 2655.6h14v14h-14zM1056.7 2656.6h14v14h-14zM1058.7 2657.2h14v14h-14zM1060.8 2657.3h14v14h-14zM1062.9 2656.7h14v14h-14zM1064.9 2654h14v14h-14zM1067 2649.4h14v14h-14zM1069.1 2643.9h14v14h-14zM1071.1 2637.3h14v14h-14zM1073.2 2628.7h14v14h-14zM1075.3 2619h14v14h-14zM1077.3 2607.8h14v14h-14zM1079.4 2594.4h14v14h-14zM1081.4 2574.8h14v14h-14zM1083.5 2552.4h14v14h-14zM1085.6 2526.5h14v14h-14zM1087.6 2495.6h14v14h-14zM1089.7 2460.4h14v14h-14zM1091.8 2420.9h14v14h-14zM1093.8 2377.1h14v14h-14zM1095.9 2328.6h14v14h-14zM1098 2275.9h14v14h-14zM1100 2218.1h14v14h-14zM1102.1 2159.6h14v14h-14zM1104.1 2102.7h14v14h-14zM1106.2 2046h14v14h-14zM1108.3 1991.6h14v14h-14zM1110.3 1942.7h14v14h-14zM1112.4 1904.3h14v14h-14zM1114.5 1869.9h14v14h-14zM1116.5 1849.3h14v14h-14zM1118.6 1841.1h14v14h-14zM1120.7 1849.8h14v14h-14zM1122.7 1865.8h14v14h-14zM1124.8 1883.9h14v14h-14zM1126.8 1904.3h14v14h-14zM1128.9 1938.7h14v14h-14zM1131 1978.4h14v14h-14zM1133 2023.6h14v14h-14zM1135.1 2068.3h14v14h-14zM1137.2 2114.9h14v14h-14zM1139.2 2163.5h14v14h-14zM1141.3 2208.7h14v14h-14zM1143.4 2254.3h14v14h-14zM1145.4 2299.4h14v14h-14zM1147.5 2343.6h14v14h-14zM1149.6 2386.3h14v14h-14zM1151.6 2426.5h14v14h-14zM1153.7 2463h14v14h-14zM1155.7 2501.8h14v14h-14zM1157.8 2535.7h14v14h-14zM1159.9 2566.5h14v14h-14zM1161.9 2595.2h14v14h-14zM1164 2622h14v14h-14zM1166.1 2648h14v14h-14zM1168.1 2672.3h14v14h-14zM1170.2 2688.1h14v14h-14zM1172.3 2699.6h14v14h-14zM1174.3 2706.6h14v14h-14zM1176.4 2709.8h14v14h-14zM1178.4 2706.4h14v14h-14zM1180.5 2700.6h14v14h-14zM1182.6 2691.3h14v14h-14zM1184.6 2677.4h14v14h-14zM1186.7 2658.1h14v14h-14zM1188.8 2632.2h14v14h-14zM1190.8 2598.8h14v14h-14zM1192.9 2562.1h14v14h-14zM1195 2519.6h14v14h-14zM1197 2472.1h14v14h-14zM1199.1 2421.8h14v14h-14zM1201.1 2367.8h14v14h-14zM1203.2 2313.2h14v14h-14zM1205.3 2256.5h14v14h-14zM1207.3 2200.3h14v14h-14zM1209.4 2145.2h14v14h-14zM1211.5 2092h14v14h-14zM1213.5 2042h14v14h-14zM1215.6 1995.2h14v14h-14zM1217.7 1952.4h14v14h-14zM1219.7 1913.8h14v14h-14zM1221.8 1880.1h14v14h-14zM1223.9 1851h14v14h-14zM1225.9 1826.9h14v14h-14zM1228 1807.3h14v14h-14zM1230 1792.6h14v14h-14zM1232.1 1782.1h14v14h-14zM1234.2 1776.3h14v14h-14zM1236.2 1773.9h14v14h-14zM1238.3 1775.8h14v14h-14zM1240.4 1781h14v14h-14zM1242.4 1789.1h14v14h-14zM1244.5 1801.3h14v14h-14zM1246.6 1823.9h14v14h-14zM1248.6 1841.8h14v14h-14zM1250.7 1861.5h14v14h-14zM1252.7 1884.7h14v14h-14zM1254.8 1914.4h14v14h-14zM1256.9 1939.1h14v14h-14zM1258.9 1972.9h14v14h-14zM1261 2009h14v14h-14zM1263.1 2047.9h14v14h-14zM1265.1 2090.7h14v14h-14zM1267.2 2140.3h14v14h-14zM1269.3 2184.6h14v14h-14zM1271.3 2242.3h14v14h-14zM1273.4 2298.8h14v14h-14zM1275.4 2358.1h14v14h-14zM1277.5 2417.3h14v14h-14zM1279.6 2475.3h14v14h-14zM1281.6 2531.1h14v14h-14zM1283.7 2583.3h14v14h-14zM1285.8 2629.8h14v14h-14zM1287.8 2670.4h14v14h-14zM1289.9 2705.2h14v14h-14zM1292 2734.3h14v14h-14zM1294 2756.9h14v14h-14zM1296.1 2725.4h14v14h-14zM1298.2 2677.6h14v14h-14zM1300.2 2616.1h14v14h-14zM1302.3 2546.6h14v14h-14zM1304.3 2472.5h14v14h-14zM1306.4 2396.8h14v14h-14zM1308.5 2321h14v14h-14zM1310.5 2245.9h14v14h-14zM1312.6 2171.2h14v14h-14zM1314.7 2104.4h14v14h-14zM1316.7 2047.2h14v14h-14zM1318.8 1995.8h14v14h-14zM1320.9 1949.2h14v14h-14zM1322.9 1910h14v14h-14zM1325 1876.9h14v14h-14zM1327 1847.1h14v14h-14zM1329.1 1822.4h14v14h-14zM1331.2 1800.6h14v14h-14zM1333.2 1783.8h14v14h-14zM1335.3 1770.5h14v14h-14zM1337.4 1759.5h14v14h-14zM1339.4 1750.8h14v14h-14zM1341.5 1743.8h14v14h-14zM1343.6 1738h14v14h-14zM1345.6 1733.4h14v14h-14zM1347.7 1729.9h14v14h-14zM1349.8 1727.6h14v14h-14zM1351.8 1726.1h14v14h-14zM1353.9 1725.5h14v14h-14zM1355.9 1726.1h14v14h-14zM1358 1727.6h14v14h-14zM1360.1 1729.9h14v14h-14zM1362.1 1733.4h14v14h-14zM1364.2 1738h14v14h-14zM1366.3 1743.8h14v14h-14zM1368.3 1750.8h14v14h-14zM1370.4 1758.9h14v14h-14zM1372.5 1768.2h14v14h-14zM1374.5 1778.1h14v14h-14zM1376.6 1789.1h14v14h-14zM1378.6 1801.3h14v14h-14zM1380.7 1814.4h14v14h-14zM1382.8 1831.6h14v14h-14zM1384.8 1853.6h14v14h-14zM1386.9 1876.5h14v14h-14zM1389 1905.7h14v14h-14zM1391 1941.3h14v14h-14zM1393.1 1985h14v14h-14zM1395.2 2037.1h14v14h-14zM1397.2 2103.3h14v14h-14zM1399.3 2186.1h14v14h-14zM1401.3 2286.4h14v14h-14zM1403.4 2409.7h14v14h-14zM1405.5 2548.4h14v14h-14zM1407.5 2679.7h14v14h-14zM1409.6 2785.9h14v14h-14zM1411.7 2807.4h14v14h-14zM1413.7 2702.9h14v14h-14zM1415.8 2547.3h14v14h-14zM1417.9 2368.5h14v14h-14zM1419.9 2211.8h14v14h-14zM1422 2081.7h14v14h-14zM1424.1 1985.3h14v14h-14zM1426.1 1912.2h14v14h-14zM1428.2 1859.4h14v14h-14zM1430.2 1819.3h14v14h-14zM1432.3 1789.1h14v14h-14zM1434.4 1767.1h14v14h-14zM1436.4 1751.2h14v14h-14zM1438.5 1738.1h14v14h-14zM1440.6 1727.6h14v14h-14zM1442.6 1718.8h14v14h-14zM1444.7 1711.4h14v14h-14zM1446.8 1705.7h14v14h-14zM1448.8 1701.6h14v14h-14zM1450.9 1698.2h14v14h-14zM1452.9 1695.3h14v14h-14zM1455 1693h14v14h-14zM1457.1 1691.6h14v14h-14zM1459.1 1690.6h14v14h-14zM1461.2 1689.7h14v14h-14zM1463.3 1688.9h14v14h-14zM1465.3 1688.3h14v14h-14zM1467.4 1687.8h14v14h-14zM1469.5 1687.5h14v14h-14zM1471.5 1687.4h14v14h-14zM1473.6 1687.4h14v14h-14zM1475.6 1687.4h14v14h-14zM1477.7 1687.4h14v14h-14zM1479.8 1687.4h14v14h-14zM1481.8 1687.4h14v14h-14zM1483.9 1687.4h14v14h-14zM1486 1687.4h14v14h-14zM1488 1687.4h14v14h-14zM1490.1 1687.4h14v14h-14zM1492.2 1687.4h14v14h-14zM1494.2 1687.4h14v14h-14zM1496.3 1687.4h14v14h-14zM1498.4 1687.4h14v14h-14zM1500.4 1687.4h14v14h-14zM1502.5 1687.4h14v14h-14zM1504.5 1687.4h14v14h-14zM1506.6 1687.4h14v14h-14zM1508.7 1687.8h14v14h-14zM1510.7 1688.9h14v14h-14zM1512.8 1690.4h14v14h-14zM1514.9 1693.3h14v14h-14zM1516.9 1698.5h14v14h-14zM1519 1710.2h14v14h-14zM1521.1 1727.6h14v14h-14zM1523.1 1748.5h14v14h-14zM1525.2 1855.3h14v14h-14zM1527.2 2088.2h14v14h-14zM1529.3 1997h14v14h-14zM1531.4 1834.4h14v14h-14zM1533.4 1765.9h14v14h-14zM1535.5 1734.9h14v14h-14zM1537.6 1726.2h14v14h-14zM1539.6 1717.5h14v14h-14zM1541.7 1704.8h14v14h-14zM1543.8 1695.3h14v14h-14zM1545.8 1690.6h14v14h-14zM1547.9 1686.8h14v14h-14zM1549.9 1683.8h14v14h-14zM1552 1681.3h14v14h-14zM1554.1 1679.1h14v14h-14zM1556.1 1677.1h14v14h-14zM1558.2 1675.3h14v14h-14zM1560.3 1673.6h14v14h-14zM1562.3 1672.2h14v14h-14zM1564.4 1670.9h14v14h-14zM1566.5 1669.8h14v14h-14zM1568.5 1668.7h14v14h-14zM1570.6 1667.7h14v14h-14zM1572.7 1666.9h14v14h-14zM1574.7 1666.3h14v14h-14zM1576.8 1666h14v14h-14zM1578.8 1665.7h14v14h-14zM1580.9 1665.5h14v14h-14zM1583 1665.4h14v14h-14zM1585 1665.3h14v14h-14z" fill="#0000ff"/>
<path d="M259.4 2765.3L260.2 2755M261.3 2737.6L262.4 2720.7M263.3 2703.3L264.5 2680.3M265.3 2662.9L266.6 2634.3M267.4 2616.9L268.7 2583.2M269.4 2565.8L270.8 2527.8M271.4 2510.4L272.9 2468.8M273.5 2451.4L275 2407M275.5 2389.6L277 2343.2M277.6 2325.8L279.1 2278.2M279.7 2260.8L281.2 2212.9M281.7 2195.5L283.2 2148.2M283.8 2130.8L285.3 2084.8M285.9 2067.5L287.4 2023.8M288 2006.4L289.4 1965.8M290 1948.4L291.4 1911.6M292.1 1894.2L293.5 1862M294.2 1844.6L295.5 1817.6M296.4 1800.2L297.5 1779M298.5 1761.6L299.5 1746.6M300.7 1729.3L301.4 1721M317.2 1740.1L318 1751.5M319.1 1768.9L320.2 1786M321.1 1803.4L322.3 1825.6M323.1 1843L324.4 1869.9M325.2 1887.3L326.5 1918.4M327.2 1935.8L328.6 1970.4M329.3 1987.8L330.7 2025.2M331.3 2042.6L332.7 2082.2M333.4 2099.6L334.8 2140.6M335.4 2158L336.9 2199.7M337.5 2217.1L338.9 2258.7M339.6 2276.1L341 2316.8M341.6 2334.2L343.1 2373.4M343.7 2390.8L345.1 2427.8M345.8 2445.1L347.2 2479.1M347.9 2496.5L349.2 2526.8M350 2544.2L351.2 2570.2M352.1 2587.6L353.2 2608.9M354.2 2626.2L355.2 2642.2M356.4 2659.6L357.2 2669.8M375.1 2670.6L375.7 2663.7M377 2646.4L377.8 2635M379 2617.7L380 2602.2M381 2584.8L382.1 2565.6M383 2548.2L384.2 2525.8M385.1 2508.4L386.3 2483.2M387.1 2465.8L388.4 2438.3M389.2 2420.9L390.5 2391.8M391.2 2374.4L392.5 2344.2M393.3 2326.8L394.6 2296.1M395.3 2278.8L396.7 2248.2M397.4 2230.8L398.7 2200.9M399.5 2183.6L400.8 2155M401.6 2137.7L402.8 2111M403.7 2093.6L404.9 2069.4M405.8 2052.1L406.9 2030.8M407.9 2013.5L408.9 1995.7M410 1978.3L410.9 1964.5M412.1 1947.1L412.9 1937.5M436.9 1954.8L437.6 1963.1M438.9 1980.5L439.7 1991.5M441 2008.9L441.9 2022.4M443 2039.8L444 2055.3M445 2072.7L446.1 2089.8M447.1 2107.1L448.1 2125.3M449.1 2142.7L450.2 2161.5M451.2 2178.9L452.3 2197.8M453.3 2215.2L454.3 2233.7M455.3 2251.1L456.4 2268.8M457.4 2286.2L458.4 2302.6M459.5 2319.9L460.5 2334.5M461.6 2351.9L462.5 2364.2M463.7 2381.6L464.5 2391.3M465.9 2408.6L466.5 2415.3M674.3 2439.2L674.9 2431.9M676.3 2414.6L677.1 2404.1M678.3 2386.8L679.2 2373.5M680.3 2356.2L681.3 2340.5M682.4 2323.1L683.4 2305.5M684.4 2288.1L685.5 2269M686.5 2251.6L687.6 2231.5M688.5 2214.1L689.6 2193.4M690.6 2176L691.7 2155.3M692.7 2138L693.8 2117.7M694.7 2100.4L695.8 2081.1M696.8 2063.7L697.9 2045.9M698.9 2028.6L699.9 2012.7M701 1995.3L701.9 1981.8M703.1 1964.5L703.9 1953.7M705.3 1936.4L705.9 1928.7M728 1909.9L728.6 1917.8M729.9 1935.1L730.8 1947.5M731.9 1964.9L732.9 1981.5M733.9 1998.8L735 2019.2M736 2036.6L737.1 2060.3M738 2077.7L739.2 2104.1M740 2121.5L741.3 2150.3M742.1 2167.7L743.4 2198.1M744.1 2215.5L745.5 2247M746.2 2264.4L747.5 2296.4M748.3 2313.8L749.6 2345.7M750.3 2363.1L751.7 2394.2M752.4 2411.6L753.7 2441.5M754.5 2458.8L755.8 2486.7M756.6 2504.1L757.8 2529.6M758.7 2546.9L759.8 2569.4M760.8 2586.7L761.9 2605.6M762.9 2623L763.9 2638M765.1 2655.3L765.8 2666M767.2 2683.3L767.8 2689.2M783.7 2698.1L784.3 2691.5M785.6 2674.2L786.5 2661.6M787.6 2644.2L788.7 2625.9M789.6 2608.6L790.8 2585M791.6 2567.6L792.9 2539.4M793.7 2522L795 2489.6M795.7 2472.2L797.1 2436.3M797.8 2418.9L799.2 2380.1M799.8 2362.7L801.3 2321.8M801.9 2304.4L803.3 2262.2M803.9 2244.8L805.4 2201.9M806 2184.5L807.5 2141.8M808.1 2124.4L809.5 2082.6M810.1 2065.2L811.6 2025.1M812.2 2007.7L813.6 1970M814.3 1952.6L815.7 1918M816.4 1900.6L817.7 1869.8M818.5 1852.4L819.7 1826M820.6 1808.6L821.7 1787.1M822.7 1769.7L823.7 1753.6M824.9 1736.3L825.7 1726.1M841.4 1719.9L842.2 1729.8M843.4 1747.1L844.4 1763.5M845.4 1780.9L846.5 1803.3M847.4 1820.7L848.6 1848.7M849.4 1866.1L850.7 1899.1M851.4 1916.5L852.8 1953.8M853.5 1971.2L854.9 2012.2M855.5 2029.5L857 2073.4M857.6 2090.7L859.1 2136.6M859.6 2154L861.1 2201.2M861.7 2218.5L863.2 2266.1M863.8 2283.5L865.3 2330.6M865.8 2348L867.3 2393.9M867.9 2411.3L869.4 2455.1M870 2472.5L871.4 2513.4M872.1 2530.8L873.5 2568.2M874.2 2585.5L875.5 2618.5M876.3 2635.9L877.5 2663.9M878.4 2681.3L879.5 2703.8M880.5 2721.1L881.5 2737.5M882.7 2754.9L883.5 2764.8M899.2 2759.4L900 2749.6M901.2 2732.2L902.1 2716.6M903.2 2699.3L904.3 2678.3M905.2 2660.9L906.4 2634.9M907.2 2617.5L908.5 2587.1M909.2 2569.7L910.6 2535.3M911.3 2517.9L912.7 2480.3M913.3 2462.9L914.8 2422.7M915.4 2405.3L916.8 2363.1M917.4 2345.7L918.9 2302.3M919.5 2284.9L921 2241M921.6 2223.6L923 2179.9M923.6 2162.5L925.1 2119.7M925.7 2102.3L927.2 2061.2M927.8 2043.8L929.2 2005.1M929.9 1987.7L931.2 1952M931.9 1934.6L933.3 1902.5M934 1885.1L935.3 1857.3M936.2 1839.9L937.3 1816.8M938.3 1799.5L939.3 1781.6M940.4 1764.3L941.3 1752.1M942.7 1734.8L943.2 1728.7M959.1 1744.4L959.8 1753.9M961 1771.3L962 1786.2M963 1803.6L964.1 1823.5M965 1840.9L966.2 1865.4M967.1 1882.8L968.3 1911.3M969.1 1928.7L970.4 1960.7M971.1 1978.1L972.5 2013M973.2 2030.4L974.6 2067.5M975.2 2084.8L976.7 2123.5M977.3 2140.9L978.7 2180.4M979.4 2197.7L980.8 2237.4M981.4 2254.8L982.9 2293.8M983.5 2311.2L984.9 2349M985.6 2366.4L987 2402.2M987.7 2419.6L989 2452.9M989.8 2470.3L991.1 2500.3M991.9 2517.6L993.1 2543.8M994 2561.2L995.1 2583M996.1 2600.4L997.1 2617.4M998.2 2634.7L999.1 2646.5M1000.5 2663.8L1001 2669.9M1019 2647L1019.6 2638.4M1020.9 2621L1021.8 2608.2M1022.9 2590.8L1023.9 2574.2M1024.9 2556.8L1026 2536.8M1027 2519.4L1028.1 2496.5M1029 2479.1L1030.2 2453.8M1031.1 2436.5L1032.3 2409.3M1033.1 2392L1034.4 2363.6M1035.2 2346.2L1036.5 2317.2M1037.2 2299.8L1038.5 2270.7M1039.3 2253.3L1040.6 2224.7M1041.4 2207.3L1042.6 2179.9M1043.5 2162.5L1044.7 2136.8M1045.5 2119.5L1046.7 2096M1047.6 2078.6L1048.8 2058M1049.7 2040.6L1050.8 2023.3M1051.9 2005.9L1052.8 1992.3M1054 1975L1054.8 1965.5M1080.9 1994.4L1081.5 2002.5M1082.9 2019.9L1083.7 2030.2M1084.9 2047.5L1085.8 2059.8M1087 2077.1L1087.9 2090.8M1089 2108.2L1090 2123M1091.1 2140.4L1092 2155.8M1093.1 2173.2L1094.1 2188.9M1095.2 2206.2L1096.2 2221.7M1097.3 2239L1098.2 2253.8M1099.3 2271.2L1100.3 2284.9M1101.4 2302.3L1102.3 2314.5M1103.5 2331.8L1104.3 2342.2M1105.7 2359.5L1106.3 2367.6M1270.8 2273.9L1271.4 2280.2M1272.9 2297.5L1273.5 2304.4M1274.9 2321.7L1275.5 2328.8M1277 2346.2L1277.6 2353.2M1279.1 2370.5L1279.6 2377.1M1281.2 2394.5L1281.7 2400.3M1314.2 2471.5L1314.7 2465.6M1316.1 2448.2L1316.9 2438.9M1318.1 2421.5L1319 2409.1M1320.2 2391.7L1321.1 2376.6M1322.2 2359.2L1323.2 2341.8M1324.2 2324.4L1325.3 2305.1M1326.3 2287.7L1327.4 2266.9M1328.3 2249.6L1329.5 2227.9M1330.4 2210.5L1331.5 2188.4M1332.4 2171L1333.6 2148.9M1334.5 2131.5L1335.7 2110M1336.6 2092.6L1337.7 2072.1M1338.7 2054.7L1339.7 2035.7M1340.8 2018.4L1341.8 2001.3M1342.9 1984L1343.8 1969.3M1345 1952L1345.8 1940.1M1347.1 1922.8L1347.8 1914.1M1369.8 1888.2L1370.5 1896.7M1371.8 1914.1L1372.7 1927.5M1373.8 1944.8L1374.8 1962.8M1375.8 1980.2L1376.9 2002.2M1377.8 2019.6L1379 2045.2M1379.8 2062.6L1381.1 2091.2M1381.9 2108.6L1383.2 2139.7M1383.9 2157L1385.3 2190M1386 2207.3L1387.4 2241.4M1388.1 2258.8L1389.4 2293.5M1390.1 2310.8L1391.5 2345.3M1392.2 2362.7L1393.5 2396.4M1394.3 2413.8L1395.6 2446.1M1396.3 2463.4L1397.7 2493.6M1398.4 2511L1399.7 2538.5M1400.5 2555.9L1401.7 2580.1M1402.6 2597.5L1403.7 2617.9M1404.8 2635.3L1405.7 2651.5M1406.9 2668.9L1407.7 2680.4M1409.1 2697.7L1409.7 2704.2M1425.6 2706.7L1426.2 2698.7M1427.5 2681.3L1428.4 2667.2M1429.5 2649.9L1430.6 2630.1M1431.5 2612.7L1432.7 2587.7M1433.5 2570.3L1434.8 2540.6M1435.5 2523.2L1436.9 2489.4M1437.6 2472L1439 2434.8M1439.6 2417.4L1441.1 2377.4M1441.7 2360L1443.1 2318M1443.7 2300.6L1445.2 2257.3M1445.8 2239.9L1447.3 2196.2M1447.9 2178.8L1449.3 2135.3M1449.9 2117.9L1451.4 2075.4M1452 2058L1453.4 2017.3M1454.1 2000L1455.5 1961.8M1456.2 1944.4L1457.5 1909.5M1458.3 1892.2L1459.6 1861.2M1460.4 1843.8L1461.6 1817.3M1462.5 1799.9L1463.6 1778.5M1464.6 1761.1L1465.6 1745.3M1466.8 1727.9L1467.5 1718M1483.3 1714.6L1484 1724.1M1485.3 1741.4L1486.2 1757.2M1487.2 1774.6L1488.4 1796.2M1489.2 1813.6L1490.5 1840.5M1491.3 1857.9L1492.6 1889.7M1493.3 1907.1L1494.7 1943.1M1495.3 1960.5L1496.8 2000.1M1497.4 2017.5L1498.9 2059.9M1499.4 2077.3L1500.9 2121.8M1501.5 2139.2L1503 2185M1503.6 2202.4L1505.1 2248.8M1505.6 2266.2L1507.1 2312.4M1507.7 2329.8L1509.2 2374.9M1509.8 2392.3L1511.2 2435.7M1511.9 2453.1L1513.3 2493.8M1513.9 2511.2L1515.3 2548.8M1516 2566.1L1517.4 2599.7M1518.1 2617.1L1519.4 2646.1M1520.2 2663.5L1521.4 2687.3M1522.4 2704.6L1523.4 2722.8M1524.5 2740.2L1525.4 2752.2M1526.8 2769.6L1527.3 2775.2M1541.2 2769L1541.8 2762.4M1543.1 2745L1544 2732.4M1545.1 2715.1L1546.1 2696.9M1547.1 2679.5L1548.3 2656.1M1549.1 2638.7L1550.4 2610.7M1551.1 2593.3L1552.5 2561.1M1553.2 2543.7L1554.5 2507.9M1555.2 2490.5L1556.6 2451.8M1557.3 2434.4L1558.7 2393.5M1559.3 2376.1L1560.8 2333.6M1561.4 2316.2L1562.8 2272.9M1563.4 2255.5L1564.9 2212M1565.5 2194.6L1567 2151.8M1567.6 2134.4L1569 2092.9M1569.6 2075.6L1571.1 2036.1M1571.7 2018.7L1573.1 1982M1573.8 1964.6L1575.2 1931.3M1575.9 1913.9L1577.2 1884.5M1578 1867.1L1579.2 1842.3M1580.1 1824.9L1581.2 1805.1M1582.3 1787.7L1583.2 1773.4M1584.5 1756.1L1585.1 1747.6" stroke="#ff0000" stroke-width="5" fill="none"/>
<path d="M252.6 2814.1h0M254.6 2808.1h0M256.7 2794.6h0M258.8 2773.9h0M260.8 2746.3h0M262.9 2712h0M264.9 2671.6h0M267 2625.6h0M269.1 2574.5h0M271.1 2519.1h0M273.2 2460.1h0M275.3 2398.3h0M277.3 2334.5h0M279.4 2269.5h0M281.5 2204.2h0M283.5 2139.5h0M285.6 2076.1h0M287.7 2015.1h0M289.7 1957.1h0M291.8 1902.9h0M293.8 1853.3h0M295.9 1808.9h0M298 1770.3h0M300 1737.9h0M302.1 1712.3h0M304.2 1693.8h0M306.2 1682.6h0M308.3 1678.8h0M310.4 1682.2h0M312.4 1692.2h0M314.5 1708.6h0M316.5 1731.4h0M318.6 1760.2h0M320.7 1794.7h0M322.7 1834.3h0M324.8 1878.6h0M326.9 1927.1h0M328.9 1979.1h0M331 2033.9h0M333.1 2090.9h0M335.1 2149.3h0M337.2 2208.4h0M339.2 2267.4h0M341.3 2325.5h0M343.4 2382.1h0M345.4 2436.5h0M347.5 2487.8h0M349.6 2535.5h0M351.6 2578.9h0M353.7 2617.5h0M355.8 2650.9h0M357.8 2678.5h0M359.9 2700h0M362 2715.2h0M364 2723.9h0M366.1 2725.9h0M368.1 2722.2h0M370.2 2713h0M372.3 2698.7h0M374.3 2679.3h0M376.4 2655.1h0M378.5 2626.4h0M380.5 2593.5h0M382.6 2556.9h0M384.7 2517.1h0M386.7 2474.5h0M388.8 2429.6h0M390.8 2383.1h0M392.9 2335.5h0M395 2287.4h0M397 2239.5h0M399.1 2192.3h0M401.2 2146.3h0M403.2 2102.3h0M405.3 2060.8h0M407.4 2022.2h0M409.4 1987h0M411.5 1955.8h0M413.5 1928.8h0M415.6 1906.5h0M417.7 1889.1h0M419.7 1876.8h0M421.8 1869.8h0M423.9 1868.2h0M425.9 1871.2h0M428 1878.3h0M430.1 1889.6h0M432.1 1904.8h0M434.2 1923.7h0M436.3 1946.2h0M438.3 1971.8h0M440.4 2000.2h0M442.4 2031.1h0M444.5 2064h0M446.6 2098.4h0M448.6 2134h0M450.7 2170.2h0M452.8 2206.5h0M454.8 2242.4h0M456.9 2277.5h0M459 2311.2h0M461 2343.2h0M463.1 2372.9h0M465.1 2400h0M467.2 2424h0M469.3 2444.7h0M471.3 2461.9h0M473.4 2475.1h0M475.5 2484.3h0M477.5 2489.4h0M479.6 2490.4h0M481.7 2488.6h0M483.7 2484.5h0M485.8 2478.4h0M487.8 2470.1h0M489.9 2459.9h0M492 2447.9h0M494 2434.2h0M496.1 2419.1h0M498.2 2402.8h0M500.2 2385.4h0M502.3 2367.3h0M504.4 2348.8h0M506.4 2330h0M508.5 2311.2h0M510.6 2292.7h0M512.6 2274.8h0M514.7 2257.8h0M516.7 2241.8h0M518.8 2227.1h0M520.9 2213.9h0M522.9 2202.4h0M525 2192.8h0M527.1 2185.1h0M529.1 2179.6h0M531.2 2176.2h0M533.3 2175.1h0M535.3 2175.7h0M537.4 2177.6h0M539.4 2180.6h0M541.5 2184.7h0M543.6 2189.7h0M545.6 2195.6h0M547.7 2202h0M549.8 2208.9h0M551.8 2216h0M553.9 2223h0M556 2229.9h0M558 2236.3h0M560.1 2242.1h0M562.1 2247h0M564.2 2251h0M566.3 2253.9h0M568.3 2255.6h0M570.4 2256.1h0M572.5 2255.2h0M574.5 2252.7h0M576.6 2248.6h0M578.7 2243.3h0M580.7 2236.7h0M582.8 2229.1h0M584.9 2220.7h0M586.9 2211.9h0M589 2202.7h0M591 2193.6h0M593.1 2184.9h0M595.2 2176.6h0M597.2 2169.2h0M599.3 2162.9h0M601.4 2157.8h0M603.4 2154h0M605.5 2151.8h0M607.6 2151.2h0M609.6 2152.7h0M611.7 2156.8h0M613.7 2163.3h0M615.8 2172.2h0M617.9 2183.4h0M619.9 2196.6h0M622 2211.8h0M624.1 2228.7h0M626.1 2247h0M628.2 2266.5h0M630.3 2287h0M632.3 2308.1h0M634.4 2329.5h0M636.4 2351h0M638.5 2372.3h0M640.6 2393h0M642.6 2412.8h0M644.7 2431.5h0M646.8 2448.9h0M648.8 2464.6h0M650.9 2478.4h0M653 2490.2h0M655 2499.8h0M657.1 2507.1h0M659.2 2511.9h0M661.2 2514.2h0M663.3 2513.6h0M665.3 2508.8h0M667.4 2499.6h0M669.5 2486.3h0M671.5 2469h0M673.6 2447.9h0M675.7 2423.3h0M677.7 2395.4h0M679.8 2364.8h0M681.9 2331.8h0M683.9 2296.8h0M686 2260.3h0M688 2222.8h0M690.1 2184.7h0M692.2 2146.6h0M694.2 2109h0M696.3 2072.4h0M698.4 2037.2h0M700.4 2004h0M702.5 1973.1h0M704.6 1945h0M706.6 1920.1h0M708.7 1898.6h0M710.7 1880.9h0M712.8 1867.1h0M714.9 1857.6h0M716.9 1852.3h0M719 1851.5h0M721.1 1855.9h0M723.1 1865.8h0M725.2 1880.9h0M727.3 1901.2h0M729.3 1926.4h0M731.4 1956.2h0M733.5 1990.2h0M735.5 2027.9h0M737.6 2069h0M739.6 2112.8h0M741.7 2159h0M743.8 2206.8h0M745.8 2255.7h0M747.9 2305.1h0M750 2354.4h0M752 2402.9h0M754.1 2450.1h0M756.2 2495.4h0M758.2 2538.2h0M760.3 2578h0M762.3 2614.3h0M764.4 2646.7h0M766.5 2674.6h0M768.5 2697.9h0M770.6 2716.2h0M772.7 2729.3h0M774.7 2736.9h0M776.8 2739.1h0M778.9 2735h0M780.9 2724.2h0M783 2706.7h0M785.1 2682.9h0M787.1 2652.9h0M789.2 2617.3h0M791.2 2576.3h0M793.3 2530.7h0M795.4 2480.9h0M797.4 2427.6h0M799.5 2371.4h0M801.6 2313.1h0M803.6 2253.5h0M805.7 2193.2h0M807.8 2133.1h0M809.8 2073.9h0M811.9 2016.4h0M813.9 1961.3h0M816 1909.3h0M818.1 1861.1h0M820.1 1817.3h0M822.2 1778.4h0M824.3 1745h0M826.3 1717.4h0M828.4 1696.1h0M830.5 1681.2h0M832.5 1673.1h0M834.6 1671.7h0M836.6 1677.7h0M838.7 1690.9h0M840.8 1711.2h0M842.8 1738.4h0M844.9 1772.2h0M847 1812h0M849 1857.4h0M851.1 1907.8h0M853.2 1962.5h0M855.2 2020.8h0M857.3 2082h0M859.4 2145.3h0M861.4 2209.9h0M863.5 2274.8h0M865.5 2339.3h0M867.6 2402.6h0M869.7 2463.8h0M871.7 2522.1h0M873.8 2576.8h0M875.9 2627.2h0M877.9 2672.6h0M880 2712.5h0M882.1 2746.2h0M884.1 2773.4h0M886.2 2793.8h0M888.2 2807h0M890.3 2812.9h0M892.4 2811.6h0M894.4 2803.6h0M896.5 2789h0M898.6 2768h0M900.6 2740.9h0M902.7 2708h0M904.8 2669.6h0M906.8 2626.2h0M908.9 2578.4h0M910.9 2526.6h0M913 2471.6h0M915.1 2414h0M917.1 2354.4h0M919.2 2293.6h0M921.3 2232.3h0M923.3 2171.2h0M925.4 2111h0M927.5 2052.5h0M929.5 1996.4h0M931.6 1943.3h0M933.7 1893.8h0M935.7 1848.6h0M937.8 1808.1h0M939.8 1773h0M941.9 1743.5h0M944 1720h0M946 1702.8h0M948.1 1692.2h0M950.2 1688.2h0M952.2 1690.7h0M954.3 1699.6h0M956.4 1714.6h0M958.4 1735.7h0M960.5 1762.6h0M962.5 1794.9h0M964.6 1832.2h0M966.7 1874.1h0M968.7 1920h0M970.8 1969.4h0M972.9 2021.7h0M974.9 2076.2h0M977 2132.2h0M979.1 2189.1h0M981.1 2246.1h0M983.2 2302.5h0M985.2 2357.7h0M987.3 2410.9h0M989.4 2461.6h0M991.4 2509h0M993.5 2552.5h0M995.6 2591.7h0M997.6 2626.1h0M999.7 2655.1h0M1001.8 2678.6h0M1003.8 2696.1h0M1005.9 2707.4h0M1008 2712.5h0M1010 2711.5h0M1012.1 2705.2h0M1014.1 2693.6h0M1016.2 2677.1h0M1018.3 2655.7h0M1020.3 2629.7h0M1022.4 2599.5h0M1024.5 2565.5h0M1026.5 2528.1h0M1028.6 2487.8h0M1030.7 2445.1h0M1032.7 2400.6h0M1034.8 2354.9h0M1036.8 2308.5h0M1038.9 2262h0M1041 2216h0M1043 2171.2h0M1045.1 2128.1h0M1047.2 2087.3h0M1049.2 2049.3h0M1051.3 2014.6h0M1053.4 1983.6h0M1055.4 1956.8h0M1057.5 1934.5h0M1059.5 1916.9h0M1061.6 1904.3h0M1063.7 1897h0M1065.7 1894.8h0M1067.8 1897.1h0M1069.9 1903.2h0M1071.9 1913h0M1074 1926.3h0M1076.1 1943h0M1078.1 1963h0M1080.2 1985.8h0M1082.3 2011.2h0M1084.3 2038.9h0M1086.4 2068.4h0M1088.4 2099.5h0M1090.5 2131.7h0M1092.6 2164.5h0M1094.6 2197.5h0M1096.7 2230.4h0M1098.8 2262.5h0M1100.8 2293.6h0M1102.9 2323.2h0M1105 2350.9h0M1107 2376.3h0M1109.1 2399.1h0M1111.1 2419h0M1113.2 2435.7h0M1115.3 2449.1h0M1117.3 2458.9h0M1119.4 2464.9h0M1121.5 2467.2h0M1123.5 2466.4h0M1125.6 2463.4h0M1127.7 2458.4h0M1129.7 2451.4h0M1131.8 2442.5h0M1133.8 2432h0M1135.9 2419.8h0M1138 2406.3h0M1140 2391.6h0M1142.1 2376h0M1144.2 2359.8h0M1146.2 2343.1h0M1148.3 2326.3h0M1150.4 2309.6h0M1152.4 2293.3h0M1154.5 2277.6h0M1156.6 2262.9h0M1158.6 2249.2h0M1160.7 2236.9h0M1162.7 2226.2h0M1164.8 2217.2h0M1166.9 2210h0M1168.9 2204.7h0M1171 2201.6h0M1173.1 2200.5h0M1175.1 2201h0M1177.2 2202.5h0M1179.3 2205h0M1181.3 2208.3h0M1183.4 2212.4h0M1185.4 2217.1h0M1187.5 2222.3h0M1189.6 2227.8h0M1191.6 2233.5h0M1193.7 2239h0M1195.8 2244.4h0M1197.8 2249.3h0M1199.9 2253.6h0M1202 2257.3h0M1204 2260.1h0M1206.1 2262h0M1208.1 2262.9h0M1210.2 2262.7h0M1212.3 2260.7h0M1214.3 2256.9h0M1216.4 2251.5h0M1218.5 2244.6h0M1220.5 2236.3h0M1222.6 2226.9h0M1224.7 2216.7h0M1226.7 2205.8h0M1228.8 2194.7h0M1230.9 2183.6h0M1232.9 2172.8h0M1235 2162.5h0M1237 2153.2h0M1239.1 2144.9h0M1241.2 2138h0M1243.2 2132.5h0M1245.3 2128.8h0M1247.4 2126.8h0M1249.4 2126.7h0M1251.5 2129.3h0M1253.6 2134.8h0M1255.6 2143.1h0M1257.7 2154.1h0M1259.7 2167.6h0M1261.8 2183.5h0M1263.9 2201.4h0M1265.9 2221.2h0M1268 2242.6h0M1270.1 2265.3h0M1272.1 2288.9h0M1274.2 2313h0M1276.3 2337.5h0M1278.3 2361.9h0M1280.4 2385.8h0M1282.4 2409h0M1284.5 2431h0M1286.6 2451.6h0M1288.6 2470.6h0M1290.7 2487.5h0M1292.8 2502.2h0M1294.8 2514.5h0M1296.9 2524.1h0M1299 2531.1h0M1301 2535.1h0M1303.1 2536.3h0M1305.2 2533.6h0M1307.2 2526.6h0M1309.3 2515.2h0M1311.3 2499.7h0M1313.4 2480.1h0M1315.5 2456.9h0M1317.5 2430.2h0M1319.6 2400.4h0M1321.7 2367.9h0M1323.7 2333.1h0M1325.8 2296.4h0M1327.9 2258.2h0M1329.9 2219.2h0M1332 2179.7h0M1334 2140.2h0M1336.1 2101.3h0M1338.2 2063.4h0M1340.2 2027.1h0M1342.3 1992.7h0M1344.4 1960.7h0M1346.4 1931.5h0M1348.5 1905.4h0M1350.6 1882.9h0M1352.6 1864.2h0M1354.7 1849.5h0M1356.8 1838.9h0M1358.8 1832.7h0M1360.9 1831h0M1362.9 1834.5h0M1365 1843.9h0M1367.1 1858.9h0M1369.1 1879.5h0M1371.2 1905.4h0M1373.3 1936.2h0M1375.3 1971.5h0M1377.4 2010.9h0M1379.5 2053.9h0M1381.5 2099.9h0M1383.6 2148.4h0M1385.6 2198.6h0M1387.7 2250.1h0M1389.8 2302.1h0M1391.8 2354h0M1393.9 2405.1h0M1396 2454.8h0M1398 2502.3h0M1400.1 2547.2h0M1402.2 2588.8h0M1404.2 2626.6h0M1406.3 2660.2h0M1408.3 2689h0M1410.4 2712.8h0M1412.5 2731.2h0M1414.5 2744h0M1416.6 2751.1h0M1418.7 2752.2h0M1420.7 2746.7h0M1422.8 2734.4h0M1424.9 2715.4h0M1426.9 2690h0M1429 2658.5h0M1431.1 2621.4h0M1433.1 2579h0M1435.2 2531.9h0M1437.2 2480.7h0M1439.3 2426.1h0M1441.4 2368.7h0M1443.4 2309.3h0M1445.5 2248.6h0M1447.6 2187.5h0M1449.6 2126.6h0M1451.7 2066.7h0M1453.8 2008.7h0M1455.8 1953.1h0M1457.9 1900.8h0M1459.9 1852.5h0M1462 1808.6h0M1464.1 1769.8h0M1466.1 1736.6h0M1468.2 1709.3h0M1470.3 1688.4h0M1472.3 1674.1h0M1474.4 1666.5h0M1476.5 1665.8h0M1478.5 1672.2h0M1480.6 1685.6h0M1482.6 1705.9h0M1484.7 1732.7h0M1486.8 1765.9h0M1488.8 1804.9h0M1490.9 1849.2h0M1493 1898.4h0M1495 1951.8h0M1497.1 2008.8h0M1499.2 2068.6h0M1501.2 2130.5h0M1503.3 2193.7h0M1505.4 2257.5h0M1507.4 2321.1h0M1509.5 2383.6h0M1511.5 2444.4h0M1513.6 2502.5h0M1515.7 2557.4h0M1517.7 2608.4h0M1519.8 2654.8h0M1521.9 2696h0M1523.9 2731.5h0M1526 2760.9h0M1528.1 2783.8h0M1530.1 2800h0M1532.2 2809.2h0M1534.2 2811.4h0M1536.3 2806.7h0M1538.4 2795.4h0M1540.4 2777.7h0M1542.5 2753.7h0M1544.6 2723.8h0M1546.6 2688.2h0M1548.7 2647.4h0M1550.8 2602h0M1552.8 2552.4h0M1554.9 2499.2h0M1556.9 2443.1h0M1559 2384.8h0M1561.1 2324.9h0M1563.1 2264.2h0M1565.2 2203.3h0M1567.3 2143.1h0M1569.3 2084.2h0M1571.4 2027.4h0M1573.5 1973.3h0M1575.5 1922.6h0M1577.6 1875.8h0M1579.7 1833.6h0M1581.7 1796.4h0M1583.8 1764.7h0M1585.8 1738.9h0M1587.9 1719.3h0M1590 1706.1h0M1592 1699.4h0" stroke="#ff0000" stroke-width="15.5" stroke-linecap="round" fill="none"/>
<path d="M250.5 1650.8V2837.4M227.5 1653.3H1718.2M239.5 2698.3H250.5M1695.2 2698.3H1706.2M227.5 2582.2H250.5M1695.2 2582.2H1718.2M239.5 2466.1H250.5M1695.2 2466.1H1706.2M227.5 2350H250.5M1695.2 2350H1718.2M239.5 2233.8H250.5M1695.2 2233.8H1706.2M227.5 2117.7H250.5M1695.2 2117.7H1718.2M239.5 2001.6H250.5M1695.2 2001.6H1706.2M227.5 1885.5H250.5M1695.2 1885.5H1718.2M239.5 1769.4H250.5M1695.2 1769.4H1706.2M353.7 2814.4V2826.6M456.9 2814.4V2837.4M560.1 2814.4V2826.6M663.3 2814.4V2837.4M766.5 2814.4V2826.6M869.7 2814.4V2837.4M972.9 2814.4V2826.6M1076.1 2814.4V2837.4M1179.3 2814.4V2826.6M1282.4 2814.4V2837.4M1385.6 2814.4V2826.6M1488.8 2814.4V2837.4M1592 2814.4V2826.6" stroke="#000" stroke-width="5" fill="none"/>
<path d="M1695.2 1650.8V2837.4M227.5 2814.4H1718.2" stroke="#000" stroke-width="6" fill="none"/>
<text transform="translate(213.1 2834.8) scale(1 1.065)" text-anchor="end" font-size="66.5" font-family="Liberation Sans, Arial, sans-serif" font-weight="bold">0.0</text>
<text transform="translate(1733.53 2834.8) scale(1 1.065)" text-anchor="start" font-size="66.5" font-family="Liberation Sans, Arial, sans-serif" font-weight="bold">0.0</text>
<text transform="translate(213.1 2602.58) scale(1 1.065)" text-anchor="end" font-size="66.5" font-family="Liberation Sans, Arial, sans-serif" font-weight="bold">0.2</text>
<text transform="translate(1733.53 2602.58) scale(1 1.065)" text-anchor="start" font-size="66.5" font-family="Liberation Sans, Arial, sans-serif" font-weight="bold">0.2</text>
<text transform="translate(213.1 2370.36) scale(1 1.065)" text-anchor="end" font-size="66.5" font-family="Liberation Sans, Arial, sans-serif" font-weight="bold">0.4</text>
<text transform="translate(1733.53 2370.36) scale(1 1.065)" text-anchor="start" font-size="66.5" font-family="Liberation Sans, Arial, sans-serif" font-weight="bold">0.4</text>
<text transform="translate(213.1 2138.14) scale(1 1.065)" text-anchor="end" font-size="66.5" font-family="Liberation Sans, Arial, sans-serif" font-weight="bold">0.6</text>
<text transform="translate(1733.53 2138.14) scale(1 1.065)" text-anchor="start" font-size="66.5" font-family="Liberation Sans, Arial, sans-serif" font-weight="bold">0.6</text>
<text transform="translate(213.1 1905.92) scale(1 1.065)" text-anchor="end" font-size="66.5" font-family="Liberation Sans, Arial, sans-serif" font-weight="bold">0.8</text>
<text transform="translate(1733.53 1905.92) scale(1 1.065)" text-anchor="start" font-size="66.5" font-family="Liberation Sans, Arial, sans-serif" font-weight="bold">0.8</text>
<text transform="translate(213.1 1673.7) scale(1 1.065)" text-anchor="end" font-size="66.5" font-family="Liberation Sans, Arial, sans-serif" font-weight="bold">1.0</text>
<text transform="translate(1733.53 1673.7) scale(1 1.065)" text-anchor="start" font-size="66.5" font-family="Liberation Sans, Arial, sans-serif" font-weight="bold">1.0</text>
<text transform="translate(250.5 2905.6) scale(1 1.065)" text-anchor="middle" font-size="66.5" font-family="Liberation Sans, Arial, sans-serif" font-weight="bold">0</text>
<text transform="translate(456.89 2905.6) scale(1 1.065)" text-anchor="middle" font-size="66.5" font-family="Liberation Sans, Arial, sans-serif" font-weight="bold">100</text>
<text transform="translate(663.28 2905.6) scale(1 1.065)" text-anchor="middle" font-size="66.5" font-family="Liberation Sans, Arial, sans-serif" font-weight="bold">200</text>
<text transform="translate(869.67 2905.6) scale(1 1.065)" text-anchor="middle" font-size="66.5" font-family="Liberation Sans, Arial, sans-serif" font-weight="bold">300</text>
<text transform="translate(1076.06 2905.6) scale(1 1.065)" text-anchor="middle" font-size="66.5" font-family="Liberation Sans, Arial, sans-serif" font-weight="bold">400</text>
<text transform="translate(1282.45 2905.6) scale(1 1.065)" text-anchor="middle" font-size="66.5" font-family="Liberation Sans, Arial, sans-serif" font-weight="bold">500</text>
<text transform="translate(1488.84 2905.6) scale(1 1.065)" text-anchor="middle" font-size="66.5" font-family="Liberation Sans, Arial, sans-serif" font-weight="bold">600</text>
<text transform="translate(1695.23 2905.6) scale(1 1.065)" text-anchor="middle" font-size="66.5" font-family="Liberation Sans, Arial, sans-serif" font-weight="bold">700</text>
<text transform="translate(973.96 2974.6) scale(1 1.062)" text-anchor="middle" font-size="66.3" font-family="Liberation Sans, Arial, sans-serif" font-weight="bold">Length (mm)</text>
<text transform="translate(972.56 3057.7) scale(1 1.02)" text-anchor="middle" font-size="66.3" font-family="Liberation Sans, Arial, sans-serif" font-weight="bold">(b)</text>
<text transform="translate(78.7 2235.25) rotate(-90) scale(0.984 1.062)" text-anchor="middle" font-size="66.3" font-family="Liberation Sans, Arial, sans-serif" font-weight="bold">Purity</text>
<text transform="translate(1899.23 2233.85) rotate(-90) scale(1 1.062)" text-anchor="middle" font-size="66.3" font-family="Liberation Sans, Arial, sans-serif" font-weight="bold">ECE</text>
<rect x="345.2" y="1663.2" width="357.9" height="208.4" fill="#fff" stroke="#000" stroke-width="2"/>
<path d="M350.5 1716H494" stroke="#0000ff" stroke-width="5.2"/>
<rect x="415" y="1709" width="14" height="14" fill="#0000ff"/>
<text transform="translate(509 1737.9) scale(1 1.06)" text-anchor="start" font-size="60.4" font-family="Liberation Sans, Arial, sans-serif" font-weight="bold">OAM</text>
<text x="648.6" y="1717.9" font-size="46.8" font-family="Liberation Serif, serif" stroke="#000" stroke-width="0.7">−</text>
<text x="648.6" y="1758.6" font-size="46.8" font-family="Liberation Serif, serif" stroke="#000" stroke-width="0.7">−</text>
<text transform="translate(673 1754.1) scale(1 1.065)" text-anchor="start" font-size="41" font-family="Liberation Sans, Arial, sans-serif" font-weight="bold">1</text>
<path d="M350.5 1816.4H494" stroke="#ff0000" stroke-width="5.2"/>
<circle cx="422" cy="1816.4" r="7.4" fill="#ff0000"/>
<text transform="translate(509 1838.3) scale(1 1.06)" text-anchor="start" font-size="60.4" font-family="Liberation Sans, Arial, sans-serif" font-weight="bold">OAM</text>
<text x="648.6" y="1818.3" font-size="46.8" font-family="Liberation Serif, serif" stroke="#000" stroke-width="0.7">−</text>
<text x="648.6" y="1859" font-size="46.8" font-family="Liberation Serif, serif" stroke="#000" stroke-width="0.7">−</text>
<text transform="translate(673 1854.5) scale(1 1.065)" text-anchor="start" font-size="41" font-family="Liberation Sans, Arial, sans-serif" font-weight="bold">1</text>
<circle cx="477.8" cy="2467.8" r="44.2" fill="none" stroke="#000" stroke-width="9.3"/>
<path d="M524.8 2468.8H586.9" stroke="#000" stroke-width="8.7"/>
<path d="M585.6 2456L632.5 2468.8L585.6 2481.6Z" fill="#000" stroke="#000" stroke-width="5" stroke-linejoin="round"/>
<circle cx="1180.4" cy="2717.5" r="44.2" fill="none" stroke="#000" stroke-width="9.3"/>
<path d="M1133.4 2722H1079.9" stroke="#000" stroke-width="8.7"/>
<path d="M1081.3 2709.2L1034.4 2722L1081.3 2734.8Z" fill="#000" stroke="#000" stroke-width="5" stroke-linejoin="round"/>
</svg>
</body></html>
